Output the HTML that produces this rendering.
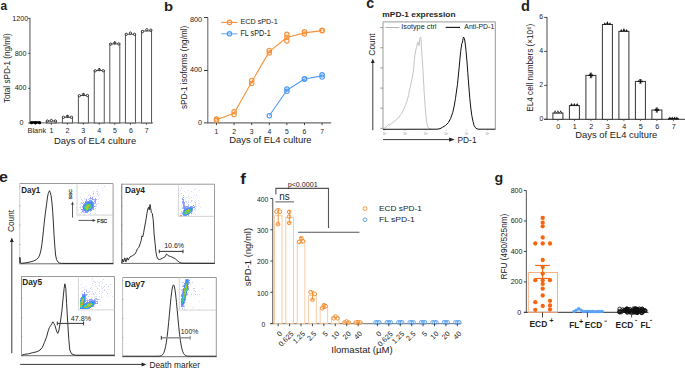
<!DOCTYPE html>
<html><head><meta charset="utf-8"><title>Figure</title>
<style>
html,body{margin:0;padding:0;background:#fff;}
body{width:685px;height:368px;overflow:hidden;}
svg{display:block;font-family:"Liberation Sans",sans-serif;}
</style></head>
<body>
<svg width="685" height="368" viewBox="0 0 685 368">

<text x="0.44" y="10.2" font-size="13.52" font-weight="bold" fill="#231f20" textLength="6.65" lengthAdjust="spacingAndGlyphs">a</text>
<text x="164.13" y="10.8" font-size="13.52" font-weight="bold" fill="#231f20" textLength="9.07" lengthAdjust="spacingAndGlyphs">b</text>
<text x="366.13" y="7.9" font-size="14.26" font-weight="bold" fill="#231f20" textLength="7.91" lengthAdjust="spacingAndGlyphs">c</text>
<text x="521.11" y="10.8" font-size="14.48" font-weight="bold" fill="#231f20" textLength="8.95" lengthAdjust="spacingAndGlyphs">d</text>
<text x="-1.04" y="182.1" font-size="14.81" font-weight="bold" fill="#231f20" textLength="8.92" lengthAdjust="spacingAndGlyphs">e</text>
<text x="240.15" y="183.7" font-size="14.21" font-weight="bold" fill="#231f20" textLength="5.62" lengthAdjust="spacingAndGlyphs">f</text>
<text x="494.43" y="181.9" font-size="13.7" font-weight="bold" fill="#231f20" textLength="8.71" lengthAdjust="spacingAndGlyphs">g</text>
<line x1="29.95" y1="17.9" x2="29.95" y2="123.55" stroke="#7d7d7d" stroke-width="1.35" />
<line x1="29.35" y1="122.95" x2="153" y2="122.95" stroke="#7d7d7d" stroke-width="1.2" />
<line x1="28.15" y1="18.35" x2="29.95" y2="18.35" stroke="#333" stroke-width="0.9" />
<line x1="28.15" y1="53.3" x2="29.95" y2="53.3" stroke="#333" stroke-width="0.9" />
<line x1="28.15" y1="88.3" x2="29.95" y2="88.3" stroke="#333" stroke-width="0.9" />
<line x1="28.15" y1="122.95" x2="29.95" y2="122.95" stroke="#333" stroke-width="0.9" />
<text x="12.34" y="20.8" font-size="8" fill="#222" textLength="15.84" lengthAdjust="spacingAndGlyphs">1200</text>
<text x="14.63" y="55.8" font-size="8" fill="#222" textLength="11.88" lengthAdjust="spacingAndGlyphs">800</text>
<text x="14.63" y="90" font-size="8" fill="#222" textLength="11.88" lengthAdjust="spacingAndGlyphs">400</text>
<text x="19.53" y="124.8" font-size="8" fill="#222" textLength="3.96" lengthAdjust="spacingAndGlyphs">0</text>
<rect x="30.45" y="121.8" width="10" height="1.15" stroke="#555" stroke-width="1.0" fill="#fff" />
<line x1="35.45" y1="122.95" x2="35.45" y2="124.75" stroke="#444" stroke-width="0.9" />
<rect x="46.35" y="121" width="10" height="1.95" stroke="#555" stroke-width="1.0" fill="#fff" />
<line x1="51.35" y1="122.95" x2="51.35" y2="124.75" stroke="#444" stroke-width="0.9" />
<rect x="62.45" y="117.3" width="10" height="5.65" stroke="#555" stroke-width="1.0" fill="#fff" />
<line x1="67.45" y1="122.95" x2="67.45" y2="124.75" stroke="#444" stroke-width="0.9" />
<rect x="78.4" y="95.5" width="10" height="27.45" stroke="#555" stroke-width="1.0" fill="#fff" />
<line x1="83.4" y1="122.95" x2="83.4" y2="124.75" stroke="#444" stroke-width="0.9" />
<rect x="94.25" y="70.5" width="10" height="52.45" stroke="#555" stroke-width="1.0" fill="#fff" />
<line x1="99.25" y1="122.95" x2="99.25" y2="124.75" stroke="#444" stroke-width="0.9" />
<rect x="109.8" y="43.9" width="10" height="79.05" stroke="#555" stroke-width="1.0" fill="#fff" />
<line x1="114.8" y1="122.95" x2="114.8" y2="124.75" stroke="#444" stroke-width="0.9" />
<rect x="125.45" y="34.3" width="10" height="88.65" stroke="#555" stroke-width="1.0" fill="#fff" />
<line x1="130.45" y1="122.95" x2="130.45" y2="124.75" stroke="#444" stroke-width="0.9" />
<rect x="141.55" y="31" width="10" height="91.95" stroke="#555" stroke-width="1.0" fill="#fff" />
<line x1="146.55" y1="122.95" x2="146.55" y2="124.75" stroke="#444" stroke-width="0.9" />
<rect x="31.5" y="121.4" width="8.1" height="2" stroke="none" stroke-width="0" fill="#000" />
<circle cx="31.5" cy="122.8" r="1.55" stroke="none" stroke-width="0" fill="#000" />
<circle cx="35.5" cy="122.8" r="1.55" stroke="none" stroke-width="0" fill="#000" />
<circle cx="39.6" cy="122.8" r="1.55" stroke="none" stroke-width="0" fill="#000" />
<circle cx="47.35" cy="121" r="1.15" stroke="#111" stroke-width="0.8" fill="#fff" />
<circle cx="51.35" cy="120.5" r="1.15" stroke="#111" stroke-width="0.8" fill="#fff" />
<circle cx="55.35" cy="121" r="1.15" stroke="#111" stroke-width="0.8" fill="#fff" />
<circle cx="63.45" cy="117.3" r="1.15" stroke="#111" stroke-width="0.8" fill="#fff" />
<circle cx="67.45" cy="116.3" r="1.15" stroke="#111" stroke-width="0.8" fill="#fff" />
<circle cx="71.45" cy="117.3" r="1.15" stroke="#111" stroke-width="0.8" fill="#fff" />
<line x1="67.45" y1="115.1" x2="67.45" y2="117.3" stroke="#111" stroke-width="0.8" />
<circle cx="79.4" cy="95.7" r="1.15" stroke="#111" stroke-width="0.8" fill="#fff" />
<circle cx="83.4" cy="94.5" r="1.15" stroke="#111" stroke-width="0.8" fill="#fff" />
<circle cx="87.4" cy="95.5" r="1.15" stroke="#111" stroke-width="0.8" fill="#fff" />
<line x1="83.4" y1="93.3" x2="83.4" y2="95.5" stroke="#111" stroke-width="0.8" />
<circle cx="95.25" cy="70.8" r="1.15" stroke="#111" stroke-width="0.8" fill="#fff" />
<circle cx="99.25" cy="69.7" r="1.15" stroke="#111" stroke-width="0.8" fill="#fff" />
<circle cx="103.25" cy="70.7" r="1.15" stroke="#111" stroke-width="0.8" fill="#fff" />
<line x1="99.25" y1="68.3" x2="99.25" y2="70.5" stroke="#111" stroke-width="0.8" />
<circle cx="110.8" cy="44.1" r="1.15" stroke="#111" stroke-width="0.8" fill="#fff" />
<circle cx="114.8" cy="42.9" r="1.15" stroke="#111" stroke-width="0.8" fill="#fff" />
<circle cx="118.8" cy="43.9" r="1.15" stroke="#111" stroke-width="0.8" fill="#fff" />
<line x1="114.8" y1="41.7" x2="114.8" y2="43.9" stroke="#111" stroke-width="0.8" />
<circle cx="126.25" cy="34.3" r="1.15" stroke="#111" stroke-width="0.8" fill="#fff" />
<circle cx="130.45" cy="33.1" r="1.15" stroke="#111" stroke-width="0.8" fill="#fff" />
<circle cx="134.55" cy="34.3" r="1.15" stroke="#111" stroke-width="0.8" fill="#fff" />
<circle cx="142.55" cy="31.6" r="1.15" stroke="#111" stroke-width="0.8" fill="#fff" />
<circle cx="146.85" cy="29.7" r="1.15" stroke="#111" stroke-width="0.8" fill="#fff" />
<circle cx="150.85" cy="30.1" r="1.15" stroke="#111" stroke-width="0.8" fill="#fff" />
<text x="27.5" y="133" font-size="7.45" fill="#222" textLength="18.61" lengthAdjust="spacingAndGlyphs">Blank</text>
<text x="49.48" y="133" font-size="7.8" fill="#222" textLength="3.9" lengthAdjust="spacingAndGlyphs">1</text>
<text x="65.44" y="133" font-size="7.8" fill="#222" textLength="3.9" lengthAdjust="spacingAndGlyphs">2</text>
<text x="81.33" y="133" font-size="7.8" fill="#222" textLength="3.9" lengthAdjust="spacingAndGlyphs">3</text>
<text x="97.2" y="133" font-size="7.8" fill="#222" textLength="3.9" lengthAdjust="spacingAndGlyphs">4</text>
<text x="113.05" y="133" font-size="7.8" fill="#222" textLength="3.9" lengthAdjust="spacingAndGlyphs">5</text>
<text x="128.9" y="133" font-size="7.8" fill="#222" textLength="3.9" lengthAdjust="spacingAndGlyphs">6</text>
<text x="144.79" y="133" font-size="7.8" fill="#222" textLength="3.9" lengthAdjust="spacingAndGlyphs">7</text>
<text x="54.05" y="144.3" font-size="9.66" fill="#222" textLength="82.19" lengthAdjust="spacingAndGlyphs">Days of EL4 culture</text>
<text x="10.3" y="103.06" font-size="8.28" fill="#222" textLength="69.67" lengthAdjust="spacingAndGlyphs" transform="rotate(-90 10.3 103.06)">Total sPD-1 (ng/ml)</text>
<line x1="207.8" y1="17.5" x2="207.8" y2="123.4" stroke="#6a6a6a" stroke-width="1.1" />
<line x1="203.9" y1="122.9" x2="331.2" y2="122.9" stroke="#6a6a6a" stroke-width="1.1" />
<line x1="204.1" y1="17.5" x2="207.8" y2="17.5" stroke="#333" stroke-width="1.0" />
<line x1="204.1" y1="70.5" x2="207.8" y2="70.5" stroke="#333" stroke-width="1.0" />
<text x="189.95" y="21.8" font-size="8.1" fill="#222" textLength="12.16" lengthAdjust="spacingAndGlyphs">800</text>
<text x="189.95" y="72" font-size="8.1" fill="#222" textLength="12.16" lengthAdjust="spacingAndGlyphs">400</text>
<text x="198.05" y="125.1" font-size="8.1" fill="#222" textLength="4.05" lengthAdjust="spacingAndGlyphs">0</text>
<line x1="216.5" y1="122.9" x2="216.5" y2="125.1" stroke="#333" stroke-width="0.9" />
<text x="214.52" y="133.5" font-size="7.6" fill="#222" textLength="3.8" lengthAdjust="spacingAndGlyphs">1</text>
<line x1="234.1" y1="122.9" x2="234.1" y2="125.1" stroke="#333" stroke-width="0.9" />
<text x="232.2" y="133.5" font-size="7.6" fill="#222" textLength="3.8" lengthAdjust="spacingAndGlyphs">2</text>
<line x1="251.7" y1="122.9" x2="251.7" y2="125.1" stroke="#333" stroke-width="0.9" />
<text x="249.82" y="133.5" font-size="7.6" fill="#222" textLength="3.8" lengthAdjust="spacingAndGlyphs">3</text>
<line x1="269.3" y1="122.9" x2="269.3" y2="125.1" stroke="#333" stroke-width="0.9" />
<text x="267.42" y="133.5" font-size="7.6" fill="#222" textLength="3.8" lengthAdjust="spacingAndGlyphs">4</text>
<line x1="286.9" y1="122.9" x2="286.9" y2="125.1" stroke="#333" stroke-width="0.9" />
<text x="285" y="133.5" font-size="7.6" fill="#222" textLength="3.8" lengthAdjust="spacingAndGlyphs">5</text>
<line x1="304.5" y1="122.9" x2="304.5" y2="125.1" stroke="#333" stroke-width="0.9" />
<text x="302.58" y="133.5" font-size="7.6" fill="#222" textLength="3.8" lengthAdjust="spacingAndGlyphs">6</text>
<line x1="322.1" y1="122.9" x2="322.1" y2="125.1" stroke="#333" stroke-width="0.9" />
<text x="320.2" y="133.5" font-size="7.6" fill="#222" textLength="3.8" lengthAdjust="spacingAndGlyphs">7</text>
<text x="229.25" y="142.9" font-size="8.28" fill="#222" textLength="82.29" lengthAdjust="spacingAndGlyphs">Days of EL4 culture</text>
<text x="187.4" y="109.04" font-size="8.97" fill="#222" textLength="83.27" lengthAdjust="spacingAndGlyphs" transform="rotate(-90 187.4 109.04)">sPD-1 isoforms (ng/ml)</text>
<polyline points="216.5,119.65 234.1,113.15 251.7,81.9 269.3,51.65 286.9,37.53 304.5,32.85 322.1,30.6" stroke="#f7923a" stroke-width="1.1" fill="none" stroke-linejoin="round" />
<circle cx="216.5" cy="119" r="2.2" stroke="#f7923a" stroke-width="1.15" fill="none" />
<circle cx="216.5" cy="120.3" r="2.2" stroke="#f7923a" stroke-width="1.15" fill="none" />
<circle cx="234.1" cy="111.8" r="2.2" stroke="#f7923a" stroke-width="1.15" fill="none" />
<circle cx="234.1" cy="114.5" r="2.2" stroke="#f7923a" stroke-width="1.15" fill="none" />
<circle cx="251.7" cy="80.4" r="2.2" stroke="#f7923a" stroke-width="1.15" fill="none" />
<circle cx="251.7" cy="83.4" r="2.2" stroke="#f7923a" stroke-width="1.15" fill="none" />
<circle cx="269.3" cy="50.4" r="2.2" stroke="#f7923a" stroke-width="1.15" fill="none" />
<circle cx="269.3" cy="52.9" r="2.2" stroke="#f7923a" stroke-width="1.15" fill="none" />
<circle cx="286.9" cy="34.3" r="2.2" stroke="#f7923a" stroke-width="1.15" fill="none" />
<circle cx="286.9" cy="37.2" r="2.2" stroke="#f7923a" stroke-width="1.15" fill="none" />
<circle cx="286.9" cy="41.1" r="2.2" stroke="#f7923a" stroke-width="1.15" fill="none" />
<circle cx="304.5" cy="31.8" r="2.2" stroke="#f7923a" stroke-width="1.15" fill="none" />
<circle cx="304.5" cy="33.9" r="2.2" stroke="#f7923a" stroke-width="1.15" fill="none" />
<circle cx="322.1" cy="30.4" r="2.2" stroke="#f7923a" stroke-width="1.15" fill="none" />
<circle cx="322.1" cy="30.8" r="2.2" stroke="#f7923a" stroke-width="1.15" fill="none" />
<polyline points="269.3,115.7 286.9,90.2 304.5,78.95 322.1,75.9" stroke="#4f9bf5" stroke-width="1.1" fill="none" stroke-linejoin="round" />
<circle cx="269.3" cy="115.7" r="2.2" stroke="#4f9bf5" stroke-width="1.15" fill="none" />
<circle cx="286.9" cy="89.1" r="2.2" stroke="#4f9bf5" stroke-width="1.15" fill="none" />
<circle cx="286.9" cy="91.3" r="2.2" stroke="#4f9bf5" stroke-width="1.15" fill="none" />
<circle cx="304.5" cy="78.7" r="2.2" stroke="#4f9bf5" stroke-width="1.15" fill="none" />
<circle cx="304.5" cy="79.2" r="2.2" stroke="#4f9bf5" stroke-width="1.15" fill="none" />
<circle cx="322.1" cy="74.8" r="2.2" stroke="#4f9bf5" stroke-width="1.15" fill="none" />
<circle cx="322.1" cy="77" r="2.2" stroke="#4f9bf5" stroke-width="1.15" fill="none" />
<line x1="221.3" y1="22.4" x2="237.6" y2="22.4" stroke="#f7923a" stroke-width="1.1" />
<circle cx="229.5" cy="22.4" r="2.2" stroke="#f7923a" stroke-width="1.15" fill="none" />
<line x1="221.3" y1="33.8" x2="237.6" y2="33.8" stroke="#7fb3f5" stroke-width="1.2" />
<circle cx="229.5" cy="33.8" r="2.2" stroke="#4f9bf5" stroke-width="1.2" fill="none" />
<circle cx="229.5" cy="33.8" r="0.7" stroke="#9cc6f7" stroke-width="0.6" fill="none" />
<text x="240.42" y="24.1" font-size="7.71" fill="#222" textLength="37.26" lengthAdjust="spacingAndGlyphs">ECD sPD-1</text>
<text x="240.42" y="35.7" font-size="8.26" fill="#222" textLength="30.25" lengthAdjust="spacingAndGlyphs">FL sPD-1</text>
<text x="382.36" y="17.4" font-size="7.03" font-weight="bold" fill="#231f20" textLength="73.15" lengthAdjust="spacingAndGlyphs">mPD-1 expression</text>
<path d="M383.0,129.4 L383.0,21.9 L495.3,21.9 L495.3,129.4" stroke="#999" stroke-width="1" fill="none"/>
<line x1="380.2" y1="27.6" x2="383" y2="27.6" stroke="#777" stroke-width="0.7" />
<line x1="380.2" y1="47.75" x2="383" y2="47.75" stroke="#777" stroke-width="0.7" />
<line x1="380.2" y1="67.9" x2="383" y2="67.9" stroke="#777" stroke-width="0.7" />
<line x1="380.2" y1="88.05" x2="383" y2="88.05" stroke="#777" stroke-width="0.7" />
<line x1="380.2" y1="108.2" x2="383" y2="108.2" stroke="#777" stroke-width="0.7" />
<line x1="380.2" y1="128.35" x2="383" y2="128.35" stroke="#777" stroke-width="0.7" />
<line x1="384.6" y1="129.4" x2="384.6" y2="130.6" stroke="#999" stroke-width="0.5" />
<text x="384.6" y="134.6" font-size="2.6" text-anchor="middle" fill="#888">10<tspan font-size="1.8" dy="-1">0</tspan></text>
<line x1="405.15" y1="129.4" x2="405.15" y2="130.6" stroke="#999" stroke-width="0.5" />
<text x="405.15" y="134.6" font-size="2.6" text-anchor="middle" fill="#888">10<tspan font-size="1.8" dy="-1">1</tspan></text>
<line x1="425.7" y1="129.4" x2="425.7" y2="130.6" stroke="#999" stroke-width="0.5" />
<text x="425.7" y="134.6" font-size="2.6" text-anchor="middle" fill="#888">10<tspan font-size="1.8" dy="-1">2</tspan></text>
<line x1="446.25" y1="129.4" x2="446.25" y2="130.6" stroke="#999" stroke-width="0.5" />
<text x="446.25" y="134.6" font-size="2.6" text-anchor="middle" fill="#888">10<tspan font-size="1.8" dy="-1">3</tspan></text>
<line x1="466.8" y1="129.4" x2="466.8" y2="130.6" stroke="#999" stroke-width="0.5" />
<text x="466.8" y="134.6" font-size="2.6" text-anchor="middle" fill="#888">10<tspan font-size="1.8" dy="-1">4</tspan></text>
<line x1="487.35" y1="129.4" x2="487.35" y2="130.6" stroke="#999" stroke-width="0.5" />
<text x="487.35" y="134.6" font-size="2.6" text-anchor="middle" fill="#888">10<tspan font-size="1.8" dy="-1">5</tspan></text>
<line x1="385.4" y1="27.5" x2="399.3" y2="27.5" stroke="#aaa" stroke-width="0.9" />
<text x="401.24" y="29.2" font-size="6.62" fill="#222" textLength="35.23" lengthAdjust="spacingAndGlyphs">Isotype ctrl</text>
<line x1="445.7" y1="27.4" x2="460" y2="27.4" stroke="#111" stroke-width="1.1" />
<text x="464.27" y="29.2" font-size="6.9" fill="#222" textLength="29.98" lengthAdjust="spacingAndGlyphs">Anti-PD-1</text>
<polyline points="383.2,129 384.5,128 386,127.6 387.2,125.6 388.6,124.6 390,125 391.5,123.2 393,122.8 394.3,121.4 396,120.4 397.5,118.2 399,117.6 400,115.5 401.5,113.6 403,110.5 404.2,108.4 405.5,104.8 406.8,101.5 408.5,95.6 409.5,90 410.5,86 411.4,81.3 412.5,76 413.6,69.9 414.2,62 414.8,55.7 415.6,51 416.5,47.1 417.2,44 417.9,42 418.5,44 419.1,45.7 419.5,41 419.9,38 420.4,37.2 420.8,37.1 421.2,42 421.6,50 422.2,58 422.8,67.1 423.5,80 424.2,92.7 424.9,103 425.6,112.7 426.3,119 427,124.1 428,127 429,128.6 431,129" stroke="#bdbdbd" stroke-width="0.9" fill="none" stroke-linejoin="round" />
<polyline points="383,129.3 437,129.2 440,128.7 442.7,127.2 445.5,125.5 448.4,122.6 450.6,118.5 452.7,112.7 454.2,106 455.5,98.4 456.5,91 457.5,84.2 458.4,75 459.2,67.1 460,58 460.7,51.4 461.3,47 461.8,43.7 462.2,43 462.7,40.8 463.1,38.5 463.5,37.1 464.1,38 464.7,40 465.4,45 466.1,51.4 467,62 467.8,72.8 468.8,86 469.8,98.4 470.8,108 471.8,115.5 473,121.5 474.1,125.5 475.5,127.8 476.9,128.8 479,129.2 495.3,129.2" stroke="#111" stroke-width="1.0" fill="none" stroke-linejoin="round" />
<line x1="372.8" y1="130.2" x2="372.8" y2="62.5" stroke="#222" stroke-width="0.9" />
<path d="M370.9,63 L372.8,58.8 L374.7,63 Z" fill="#222"/>
<text x="374.9" y="55.62" font-size="9.43" fill="#222" textLength="22.29" lengthAdjust="spacingAndGlyphs" transform="rotate(-90 374.9 55.62)">Count</text>
<line x1="383" y1="139.6" x2="449.6" y2="139.6" stroke="#222" stroke-width="0.9" />
<path d="M449.1,137.4 L454.6,139.6 L449.1,141.8 Z" fill="#222"/>
<text x="457.53" y="142.8" font-size="8.41" fill="#222" textLength="19.01" lengthAdjust="spacingAndGlyphs">PD-1</text>
<line x1="547" y1="17" x2="547" y2="119.8" stroke="#5a5a5a" stroke-width="1.1" />
<line x1="544.2" y1="119.3" x2="685" y2="119.3" stroke="#333" stroke-width="1.0" />
<line x1="544.2" y1="17.4" x2="547" y2="17.4" stroke="#333" stroke-width="0.9" />
<line x1="544.2" y1="51.4" x2="547" y2="51.4" stroke="#333" stroke-width="0.9" />
<line x1="544.2" y1="85.4" x2="547" y2="85.4" stroke="#333" stroke-width="0.9" />
<line x1="544.2" y1="119.3" x2="547" y2="119.3" stroke="#333" stroke-width="0.9" />
<text x="539.26" y="19.4" font-size="7.3" fill="#222" textLength="3.86" lengthAdjust="spacingAndGlyphs">6</text>
<text x="539.16" y="53.4" font-size="7.3" fill="#222" textLength="3.86" lengthAdjust="spacingAndGlyphs">4</text>
<text x="539.3" y="87.4" font-size="7.3" fill="#222" textLength="3.86" lengthAdjust="spacingAndGlyphs">2</text>
<text x="539.43" y="121.1" font-size="7.3" fill="#222" textLength="3.86" lengthAdjust="spacingAndGlyphs">0</text>
<rect x="552.9" y="113" width="10" height="6.3" stroke="#333" stroke-width="1.0" fill="#fff" />
<line x1="557.9" y1="119.3" x2="557.9" y2="121.1" stroke="#555" stroke-width="0.9" />
<text x="556.28" y="128.9" font-size="7.9" fill="#222" textLength="4.04" lengthAdjust="spacingAndGlyphs">0</text>
<rect x="569.4" y="105.6" width="10" height="13.7" stroke="#333" stroke-width="1.0" fill="#fff" />
<line x1="574.4" y1="119.3" x2="574.4" y2="121.1" stroke="#555" stroke-width="0.9" />
<text x="572.69" y="128.9" font-size="7.9" fill="#222" textLength="4.04" lengthAdjust="spacingAndGlyphs">1</text>
<rect x="585.9" y="75.4" width="10" height="43.9" stroke="#333" stroke-width="1.0" fill="#fff" />
<line x1="590.9" y1="119.3" x2="590.9" y2="121.1" stroke="#555" stroke-width="0.9" />
<text x="589.28" y="128.9" font-size="7.9" fill="#222" textLength="4.04" lengthAdjust="spacingAndGlyphs">2</text>
<rect x="602.4" y="24.5" width="10" height="94.8" stroke="#333" stroke-width="1.0" fill="#fff" />
<line x1="607.4" y1="119.3" x2="607.4" y2="121.1" stroke="#555" stroke-width="0.9" />
<text x="605.8" y="128.9" font-size="7.9" fill="#222" textLength="4.04" lengthAdjust="spacingAndGlyphs">3</text>
<rect x="618.9" y="31.4" width="10" height="87.9" stroke="#333" stroke-width="1.0" fill="#fff" />
<line x1="623.9" y1="119.3" x2="623.9" y2="121.1" stroke="#555" stroke-width="0.9" />
<text x="622.3" y="128.9" font-size="7.9" fill="#222" textLength="4.04" lengthAdjust="spacingAndGlyphs">4</text>
<rect x="635.4" y="81.4" width="10" height="37.9" stroke="#333" stroke-width="1.0" fill="#fff" />
<line x1="640.4" y1="119.3" x2="640.4" y2="121.1" stroke="#555" stroke-width="0.9" />
<text x="638.78" y="128.9" font-size="7.9" fill="#222" textLength="4.04" lengthAdjust="spacingAndGlyphs">5</text>
<rect x="651.9" y="110" width="10" height="9.3" stroke="#333" stroke-width="1.0" fill="#fff" />
<line x1="656.9" y1="119.3" x2="656.9" y2="121.1" stroke="#555" stroke-width="0.9" />
<text x="655.26" y="128.9" font-size="7.9" fill="#222" textLength="4.04" lengthAdjust="spacingAndGlyphs">6</text>
<rect x="668.4" y="118.6" width="10" height="0.7" stroke="#333" stroke-width="1.0" fill="#fff" />
<line x1="673.4" y1="119.3" x2="673.4" y2="121.1" stroke="#555" stroke-width="0.9" />
<text x="671.78" y="128.9" font-size="7.9" fill="#222" textLength="4.04" lengthAdjust="spacingAndGlyphs">7</text>
<path d="M553.55,113.14 L555.1,110.35 L556.65,113.14 Z" fill="#111"/>
<circle cx="555.1" cy="112.3" r="0.5" stroke="none" stroke-width="0" fill="#fff" />
<path d="M556.35,113.14 L557.9,110.35 L559.45,113.14 Z" fill="#111"/>
<circle cx="557.9" cy="112.3" r="0.5" stroke="none" stroke-width="0" fill="#fff" />
<path d="M559.15,113.14 L560.7,110.35 L562.25,113.14 Z" fill="#111"/>
<circle cx="560.7" cy="112.3" r="0.5" stroke="none" stroke-width="0" fill="#fff" />
<path d="M570.05,105.74 L571.6,102.95 L573.15,105.74 Z" fill="#111"/>
<path d="M572.85,105.74 L574.4,102.95 L575.95,105.74 Z" fill="#111"/>
<path d="M575.65,105.74 L577.2,102.95 L578.75,105.74 Z" fill="#111"/>
<line x1="590.9" y1="73.1" x2="590.9" y2="77.7" stroke="#111" stroke-width="0.8" />
<line x1="589.7" y1="73.1" x2="592.1" y2="73.1" stroke="#111" stroke-width="0.7" />
<line x1="589.7" y1="77.7" x2="592.1" y2="77.7" stroke="#111" stroke-width="0.7" />
<path d="M588.1,76.04 L589.4,73.7 L590.7,76.04 Z" fill="#111"/>
<path d="M591.1,76.24 L592.4,73.9 L593.7,76.24 Z" fill="#111"/>
<path d="M589.6,75.44 L590.9,73.1 L592.2,75.44 Z" fill="#111"/>
<path d="M589.6,75.36 L590.9,77.7 L592.2,75.36 Z" fill="#111"/>
<path d="M603.4,24.72 L604.8,22.2 L606.2,24.72 Z" fill="#111"/>
<path d="M606,24.12 L607.4,21.6 L608.8,24.12 Z" fill="#111"/>
<path d="M608.6,24.72 L610,22.2 L611.4,24.72 Z" fill="#111"/>
<line x1="607.4" y1="21.7" x2="607.4" y2="24.5" stroke="#111" stroke-width="0.8" />
<path d="M619.9,31.62 L621.3,29.1 L622.7,31.62 Z" fill="#111"/>
<path d="M622.5,31.02 L623.9,28.5 L625.3,31.02 Z" fill="#111"/>
<path d="M625.1,31.62 L626.5,29.1 L627.9,31.62 Z" fill="#111"/>
<line x1="623.9" y1="28.6" x2="623.9" y2="31.4" stroke="#111" stroke-width="0.8" />
<line x1="640.4" y1="79.5" x2="640.4" y2="83.3" stroke="#111" stroke-width="0.8" />
<line x1="639.2" y1="79.5" x2="641.6" y2="79.5" stroke="#111" stroke-width="0.7" />
<line x1="639.2" y1="83.3" x2="641.6" y2="83.3" stroke="#111" stroke-width="0.7" />
<path d="M637.6,82.04 L638.9,79.7 L640.2,82.04 Z" fill="#111"/>
<path d="M640.6,82.24 L641.9,79.9 L643.2,82.24 Z" fill="#111"/>
<path d="M639.1,81.84 L640.4,79.5 L641.7,81.84 Z" fill="#111"/>
<path d="M639.1,80.96 L640.4,83.3 L641.7,80.96 Z" fill="#111"/>
<line x1="656.9" y1="107.9" x2="656.9" y2="112.1" stroke="#111" stroke-width="0.8" />
<line x1="655.7" y1="107.9" x2="658.1" y2="107.9" stroke="#111" stroke-width="0.7" />
<line x1="655.7" y1="112.1" x2="658.1" y2="112.1" stroke="#111" stroke-width="0.7" />
<path d="M654.1,110.64 L655.4,108.3 L656.7,110.64 Z" fill="#111"/>
<path d="M657.1,110.84 L658.4,108.5 L659.7,110.84 Z" fill="#111"/>
<path d="M655.6,110.24 L656.9,107.9 L658.2,110.24 Z" fill="#111"/>
<path d="M655.6,109.76 L656.9,112.1 L658.2,109.76 Z" fill="#111"/>
<path d="M668.4,119.2 L669.9,116.5 L671.4,119.2 Z" fill="#111"/>
<path d="M670.7,119.2 L672.2,116.5 L673.7,119.2 Z" fill="#111"/>
<path d="M673.1,119.2 L674.6,116.5 L676.1,119.2 Z" fill="#111"/>
<path d="M675.4,119.2 L676.9,116.5 L678.4,119.2 Z" fill="#111"/>
<text x="575.25" y="137.6" font-size="8.55" fill="#222" textLength="82.09" lengthAdjust="spacingAndGlyphs">Days of EL4 culture</text>
<text x="532.7" y="111.65" font-size="8.83" fill="#222" textLength="87.87" lengthAdjust="spacingAndGlyphs" transform="rotate(-90 532.7 111.65)">EL4 cell numbers (×10⁶)</text>
<path d="M19.75,183.5 L113.1,183.5 L113.1,263.8" stroke="#9a9a9a" stroke-width="1" fill="none"/>
<line x1="19.25" y1="263.8" x2="113.6" y2="263.8" stroke="#6a6a6a" stroke-width="1.0" />
<line x1="19.75" y1="183" x2="19.75" y2="263.8" stroke="#cdcdcd" stroke-width="1.0" />
<line x1="19.15" y1="244.45" x2="20.55" y2="244.45" stroke="#888" stroke-width="0.6" />
<line x1="19.15" y1="225.1" x2="20.55" y2="225.1" stroke="#888" stroke-width="0.6" />
<line x1="19.15" y1="205.75" x2="20.55" y2="205.75" stroke="#888" stroke-width="0.6" />
<line x1="19.15" y1="186.4" x2="20.55" y2="186.4" stroke="#888" stroke-width="0.6" />
<line x1="30.6" y1="263.8" x2="30.6" y2="262.8" stroke="#aaa" stroke-width="0.5" />
<line x1="41.46" y1="263.8" x2="41.46" y2="262.8" stroke="#aaa" stroke-width="0.5" />
<line x1="52.31" y1="263.8" x2="52.31" y2="262.8" stroke="#aaa" stroke-width="0.5" />
<line x1="63.17" y1="263.8" x2="63.17" y2="262.8" stroke="#aaa" stroke-width="0.5" />
<line x1="74.02" y1="263.8" x2="74.02" y2="262.8" stroke="#aaa" stroke-width="0.5" />
<line x1="84.88" y1="263.8" x2="84.88" y2="262.8" stroke="#aaa" stroke-width="0.5" />
<line x1="95.73" y1="263.8" x2="95.73" y2="262.8" stroke="#aaa" stroke-width="0.5" />
<line x1="106.59" y1="263.8" x2="106.59" y2="262.8" stroke="#aaa" stroke-width="0.5" />
<text x="21.18" y="192.6" font-size="8.84" font-weight="bold" fill="#231f20" textLength="19.13" lengthAdjust="spacingAndGlyphs">Day1</text>
<polyline points="19.9,263.4 19.9,257.3 20.4,262.8 21.5,263.3 26,262.8 30.5,261.9 33.5,261 36.3,259.6 38.3,257.8 39.7,255 41,250 42,243.6 43.2,233 44.2,223 45.4,213 46.5,204.8 47.5,197 48.3,193.4 49.5,190.7 50.3,192.5 51.1,195.7 52,203 52.7,211.7 53.4,223 54,234.5 54.8,246 55.6,255 56.5,259.5 57.9,261.9 59.5,263 61.3,263.4 113,263.4" stroke="#1a1a1a" stroke-width="0.9" fill="none" stroke-linejoin="round" />
<path d="M77,183.5 L77,215.1 L113.1,215.1" stroke="#c4c4c4" stroke-width="0.7" fill="none"/>
<line x1="77" y1="208.23" x2="77.9" y2="208.23" stroke="#ccc" stroke-width="0.5" />
<line x1="77" y1="201.36" x2="77.9" y2="201.36" stroke="#ccc" stroke-width="0.5" />
<line x1="77" y1="194.49" x2="77.9" y2="194.49" stroke="#ccc" stroke-width="0.5" />
<line x1="77" y1="187.62" x2="77.9" y2="187.62" stroke="#ccc" stroke-width="0.5" />
<line x1="83.45" y1="215.1" x2="83.45" y2="214.2" stroke="#ccc" stroke-width="0.5" />
<line x1="89.89" y1="215.1" x2="89.89" y2="214.2" stroke="#ccc" stroke-width="0.5" />
<line x1="96.34" y1="215.1" x2="96.34" y2="214.2" stroke="#ccc" stroke-width="0.5" />
<line x1="102.79" y1="215.1" x2="102.79" y2="214.2" stroke="#ccc" stroke-width="0.5" />
<line x1="109.23" y1="215.1" x2="109.23" y2="214.2" stroke="#ccc" stroke-width="0.5" />
<g shape-rendering="crispEdges"><rect x="84" y="185" width="1" height="1" fill="rgb(120,130,255)" fill-opacity="0.30"/><rect x="98" y="186" width="1" height="1" fill="rgb(120,130,255)" fill-opacity="0.24"/><rect x="104" y="186" width="1" height="1" fill="rgb(120,130,255)" fill-opacity="0.38"/><rect x="102" y="188" width="1" height="1" fill="rgb(120,130,255)" fill-opacity="0.24"/><rect x="96" y="189" width="1" height="1" fill="rgb(120,130,255)" fill-opacity="0.25"/><rect x="102" y="190" width="1" height="1" fill="rgb(120,130,255)" fill-opacity="0.20"/><rect x="93" y="191" width="1" height="1" fill="rgb(120,130,255)" fill-opacity="0.34"/><rect x="96" y="191" width="1" height="1" fill="rgb(120,130,255)" fill-opacity="0.23"/><rect x="97" y="191" width="1" height="1" fill="rgb(120,130,255)" fill-opacity="0.35"/><rect x="85" y="192" width="1" height="1" fill="rgb(120,130,255)" fill-opacity="0.25"/><rect x="93" y="192" width="1" height="1" fill="rgb(120,130,255)" fill-opacity="0.29"/><rect x="93" y="193" width="1" height="1" fill="rgb(120,130,255)" fill-opacity="0.42"/><rect x="97" y="193" width="1" height="1" fill="rgb(120,130,255)" fill-opacity="0.44"/><rect x="93" y="194" width="1" height="1" fill="rgb(120,130,255)" fill-opacity="0.36"/><rect x="97" y="194" width="1" height="1" fill="rgb(120,130,255)" fill-opacity="0.41"/><rect x="99" y="194" width="1" height="1" fill="rgb(120,130,255)" fill-opacity="0.19"/><rect x="88" y="195" width="1" height="1" fill="rgb(120,130,255)" fill-opacity="0.32"/><rect x="90" y="195" width="1" height="1" fill="rgb(120,130,255)" fill-opacity="0.28"/><rect x="98" y="195" width="1" height="1" fill="rgb(120,130,255)" fill-opacity="0.36"/><rect x="90" y="196" width="1" height="1" fill="rgb(120,130,255)" fill-opacity="0.22"/><rect x="92" y="196" width="1" height="1" fill="rgb(120,130,255)" fill-opacity="0.29"/><rect x="93" y="196" width="1" height="1" fill="rgb(120,130,255)" fill-opacity="0.21"/><rect x="94" y="196" width="1" height="1" fill="rgb(120,130,255)" fill-opacity="0.21"/><rect x="96" y="196" width="1" height="1" fill="rgb(120,130,255)" fill-opacity="0.20"/><rect x="80" y="197" width="1" height="1" fill="rgb(120,130,255)" fill-opacity="0.21"/><rect x="90" y="197" width="1" height="1" fill="rgb(80,100,255)" fill-opacity="0.57"/><rect x="92" y="197" width="1" height="1" fill="rgb(80,100,255)" fill-opacity="0.49"/><rect x="101" y="197" width="1" height="1" fill="rgb(120,130,255)" fill-opacity="0.23"/><rect x="84" y="198" width="1" height="1" fill="rgb(120,130,255)" fill-opacity="0.33"/><rect x="86" y="198" width="1" height="1" fill="rgb(120,130,255)" fill-opacity="0.26"/><rect x="89" y="198" width="1" height="1" fill="rgb(80,100,255)" fill-opacity="0.49"/><rect x="90" y="198" width="1" height="1" fill="rgb(80,100,255)" fill-opacity="0.53"/><rect x="91" y="198" width="1" height="1" fill="rgb(80,100,255)" fill-opacity="0.65"/><rect x="92" y="198" width="1" height="1" fill="rgb(80,100,255)" fill-opacity="0.67"/><rect x="95" y="198" width="1" height="1" fill="rgb(80,100,255)" fill-opacity="0.52"/><rect x="81" y="199" width="1" height="1" fill="rgb(120,130,255)" fill-opacity="0.27"/><rect x="85" y="199" width="1" height="1" fill="rgb(120,130,255)" fill-opacity="0.22"/><rect x="86" y="199" width="1" height="1" fill="rgb(80,100,255)" fill-opacity="0.54"/><rect x="88" y="199" width="1" height="1" fill="rgb(80,100,255)" fill-opacity="0.42"/><rect x="90" y="199" width="1" height="1" fill="rgb(80,100,255)" fill-opacity="0.36"/><rect x="92" y="199" width="1" height="1" fill="rgb(80,100,255)" fill-opacity="0.59"/><rect x="93" y="199" width="1" height="1" fill="rgb(80,100,255)" fill-opacity="0.56"/><rect x="94" y="199" width="1" height="1" fill="rgb(80,100,255)" fill-opacity="0.47"/><rect x="95" y="199" width="1" height="1" fill="rgb(80,100,255)" fill-opacity="0.62"/><rect x="96" y="199" width="1" height="1" fill="rgb(80,100,255)" fill-opacity="0.38"/><rect x="97" y="199" width="1" height="1" fill="rgb(120,130,255)" fill-opacity="0.27"/><rect x="98" y="199" width="1" height="1" fill="rgb(120,130,255)" fill-opacity="0.19"/><rect x="82" y="200" width="1" height="1" fill="rgb(120,130,255)" fill-opacity="0.28"/><rect x="86" y="200" width="1" height="1" fill="rgb(80,100,255)" fill-opacity="0.59"/><rect x="89" y="200" width="1" height="1" fill="rgb(75,106,254)" fill-opacity="0.60"/><rect x="90" y="200" width="1" height="1" fill="rgb(64,109,252)" fill-opacity="0.69"/><rect x="91" y="200" width="1" height="1" fill="rgb(66,108,253)" fill-opacity="0.68"/><rect x="94" y="200" width="1" height="1" fill="rgb(80,100,255)" fill-opacity="0.39"/><rect x="95" y="200" width="1" height="1" fill="rgb(80,100,255)" fill-opacity="0.58"/><rect x="85" y="201" width="1" height="1" fill="rgb(80,100,255)" fill-opacity="0.64"/><rect x="86" y="201" width="1" height="1" fill="rgb(75,106,254)" fill-opacity="0.60"/><rect x="87" y="201" width="1" height="1" fill="rgb(63,109,252)" fill-opacity="0.70"/><rect x="88" y="201" width="1" height="1" fill="rgb(58,111,251)" fill-opacity="0.75"/><rect x="89" y="201" width="1" height="1" fill="rgb(57,111,251)" fill-opacity="0.75"/><rect x="90" y="201" width="1" height="1" fill="rgb(66,108,253)" fill-opacity="0.68"/><rect x="91" y="201" width="1" height="1" fill="rgb(58,111,251)" fill-opacity="0.75"/><rect x="92" y="201" width="1" height="1" fill="rgb(60,110,252)" fill-opacity="0.73"/><rect x="94" y="201" width="1" height="1" fill="rgb(80,100,255)" fill-opacity="0.60"/><rect x="95" y="201" width="1" height="1" fill="rgb(80,100,255)" fill-opacity="0.66"/><rect x="81" y="202" width="1" height="1" fill="rgb(120,130,255)" fill-opacity="0.40"/><rect x="83" y="202" width="1" height="1" fill="rgb(80,100,255)" fill-opacity="0.43"/><rect x="85" y="202" width="1" height="1" fill="rgb(65,109,252)" fill-opacity="0.69"/><rect x="86" y="202" width="1" height="1" fill="rgb(66,108,253)" fill-opacity="0.68"/><rect x="87" y="202" width="1" height="1" fill="rgb(49,113,250)" fill-opacity="0.82"/><rect x="88" y="202" width="1" height="1" fill="rgb(44,116,249)" fill-opacity="0.86"/><rect x="89" y="202" width="1" height="1" fill="rgb(44,117,249)" fill-opacity="0.86"/><rect x="90" y="202" width="1" height="1" fill="rgb(40,130,245)" fill-opacity="0.92"/><rect x="91" y="202" width="1" height="1" fill="rgb(42,122,247)" fill-opacity="0.89"/><rect x="92" y="202" width="1" height="1" fill="rgb(55,112,251)" fill-opacity="0.77"/><rect x="93" y="202" width="1" height="1" fill="rgb(65,109,252)" fill-opacity="0.68"/><rect x="95" y="202" width="1" height="1" fill="rgb(80,100,255)" fill-opacity="0.62"/><rect x="80" y="203" width="1" height="1" fill="rgb(120,130,255)" fill-opacity="0.22"/><rect x="81" y="203" width="1" height="1" fill="rgb(120,130,255)" fill-opacity="0.40"/><rect x="82" y="203" width="1" height="1" fill="rgb(80,100,255)" fill-opacity="0.50"/><rect x="84" y="203" width="1" height="1" fill="rgb(71,107,253)" fill-opacity="0.63"/><rect x="85" y="203" width="1" height="1" fill="rgb(59,110,252)" fill-opacity="0.73"/><rect x="86" y="203" width="1" height="1" fill="rgb(49,113,250)" fill-opacity="0.82"/><rect x="87" y="203" width="1" height="1" fill="rgb(33,153,238)" fill-opacity="0.95"/><rect x="88" y="203" width="1" height="1" fill="rgb(39,134,244)" fill-opacity="0.93"/><rect x="89" y="203" width="1" height="1" fill="rgb(33,175,202)" fill-opacity="0.95"/><rect x="90" y="203" width="1" height="1" fill="rgb(43,121,248)" fill-opacity="0.88"/><rect x="91" y="203" width="1" height="1" fill="rgb(38,137,243)" fill-opacity="0.95"/><rect x="92" y="203" width="1" height="1" fill="rgb(55,112,251)" fill-opacity="0.77"/><rect x="93" y="203" width="1" height="1" fill="rgb(62,110,252)" fill-opacity="0.71"/><rect x="94" y="203" width="1" height="1" fill="rgb(80,100,255)" fill-opacity="0.54"/><rect x="95" y="203" width="1" height="1" fill="rgb(80,100,255)" fill-opacity="0.48"/><rect x="98" y="203" width="1" height="1" fill="rgb(120,130,255)" fill-opacity="0.37"/><rect x="80" y="204" width="1" height="1" fill="rgb(120,130,255)" fill-opacity="0.21"/><rect x="83" y="204" width="1" height="1" fill="rgb(75,106,254)" fill-opacity="0.60"/><rect x="84" y="204" width="1" height="1" fill="rgb(63,109,252)" fill-opacity="0.70"/><rect x="85" y="204" width="1" height="1" fill="rgb(38,137,243)" fill-opacity="0.95"/><rect x="86" y="204" width="1" height="1" fill="rgb(35,181,183)" fill-opacity="0.95"/><rect x="87" y="204" width="1" height="1" fill="rgb(147,192,52)" fill-opacity="0.95"/><rect x="88" y="204" width="1" height="1" fill="rgb(80,195,93)" fill-opacity="0.95"/><rect x="89" y="204" width="1" height="1" fill="rgb(134,192,57)" fill-opacity="0.95"/><rect x="90" y="204" width="1" height="1" fill="rgb(63,195,112)" fill-opacity="0.95"/><rect x="91" y="204" width="1" height="1" fill="rgb(31,160,236)" fill-opacity="0.95"/><rect x="92" y="204" width="1" height="1" fill="rgb(49,113,250)" fill-opacity="0.82"/><rect x="93" y="204" width="1" height="1" fill="rgb(67,108,253)" fill-opacity="0.67"/><rect x="96" y="204" width="1" height="1" fill="rgb(80,100,255)" fill-opacity="0.43"/><rect x="83" y="205" width="1" height="1" fill="rgb(66,108,253)" fill-opacity="0.67"/><rect x="84" y="205" width="1" height="1" fill="rgb(43,118,248)" fill-opacity="0.87"/><rect x="85" y="205" width="1" height="1" fill="rgb(36,185,169)" fill-opacity="0.95"/><rect x="86" y="205" width="1" height="1" fill="rgb(105,194,67)" fill-opacity="0.95"/><rect x="87" y="205" width="1" height="1" fill="rgb(69,195,105)" fill-opacity="0.95"/><rect x="88" y="205" width="1" height="1" fill="rgb(180,190,40)" fill-opacity="0.95"/><rect x="89" y="205" width="1" height="1" fill="rgb(180,190,40)" fill-opacity="0.95"/><rect x="90" y="205" width="1" height="1" fill="rgb(38,190,154)" fill-opacity="0.95"/><rect x="91" y="205" width="1" height="1" fill="rgb(34,178,191)" fill-opacity="0.95"/><rect x="92" y="205" width="1" height="1" fill="rgb(41,125,246)" fill-opacity="0.90"/><rect x="93" y="205" width="1" height="1" fill="rgb(60,110,252)" fill-opacity="0.73"/><rect x="103" y="205" width="1" height="1" fill="rgb(120,130,255)" fill-opacity="0.22"/><rect x="80" y="206" width="1" height="1" fill="rgb(120,130,255)" fill-opacity="0.20"/><rect x="82" y="206" width="1" height="1" fill="rgb(80,100,255)" fill-opacity="0.45"/><rect x="83" y="206" width="1" height="1" fill="rgb(56,111,251)" fill-opacity="0.76"/><rect x="84" y="206" width="1" height="1" fill="rgb(33,174,205)" fill-opacity="0.95"/><rect x="85" y="206" width="1" height="1" fill="rgb(95,195,74)" fill-opacity="0.95"/><rect x="86" y="206" width="1" height="1" fill="rgb(180,190,40)" fill-opacity="0.95"/><rect x="87" y="206" width="1" height="1" fill="rgb(180,190,40)" fill-opacity="0.95"/><rect x="88" y="206" width="1" height="1" fill="rgb(180,190,40)" fill-opacity="0.95"/><rect x="89" y="206" width="1" height="1" fill="rgb(55,195,122)" fill-opacity="0.95"/><rect x="90" y="206" width="1" height="1" fill="rgb(71,195,103)" fill-opacity="0.95"/><rect x="91" y="206" width="1" height="1" fill="rgb(36,183,176)" fill-opacity="0.95"/><rect x="92" y="206" width="1" height="1" fill="rgb(43,121,248)" fill-opacity="0.88"/><rect x="93" y="206" width="1" height="1" fill="rgb(75,106,254)" fill-opacity="0.60"/><rect x="94" y="206" width="1" height="1" fill="rgb(80,100,255)" fill-opacity="0.61"/><rect x="95" y="206" width="1" height="1" fill="rgb(120,130,255)" fill-opacity="0.38"/><rect x="96" y="206" width="1" height="1" fill="rgb(120,130,255)" fill-opacity="0.34"/><rect x="79" y="207" width="1" height="1" fill="rgb(120,130,255)" fill-opacity="0.23"/><rect x="80" y="207" width="1" height="1" fill="rgb(120,130,255)" fill-opacity="0.43"/><rect x="82" y="207" width="1" height="1" fill="rgb(80,100,255)" fill-opacity="0.39"/><rect x="83" y="207" width="1" height="1" fill="rgb(44,115,249)" fill-opacity="0.86"/><rect x="84" y="207" width="1" height="1" fill="rgb(39,194,142)" fill-opacity="0.95"/><rect x="85" y="207" width="1" height="1" fill="rgb(180,190,40)" fill-opacity="0.95"/><rect x="86" y="207" width="1" height="1" fill="rgb(152,191,50)" fill-opacity="0.95"/><rect x="87" y="207" width="1" height="1" fill="rgb(180,190,40)" fill-opacity="0.95"/><rect x="88" y="207" width="1" height="1" fill="rgb(117,193,63)" fill-opacity="0.95"/><rect x="89" y="207" width="1" height="1" fill="rgb(54,195,122)" fill-opacity="0.95"/><rect x="90" y="207" width="1" height="1" fill="rgb(65,195,110)" fill-opacity="0.95"/><rect x="91" y="207" width="1" height="1" fill="rgb(32,156,237)" fill-opacity="0.95"/><rect x="92" y="207" width="1" height="1" fill="rgb(51,113,250)" fill-opacity="0.80"/><rect x="93" y="207" width="1" height="1" fill="rgb(70,107,253)" fill-opacity="0.64"/><rect x="80" y="208" width="1" height="1" fill="rgb(120,130,255)" fill-opacity="0.21"/><rect x="83" y="208" width="1" height="1" fill="rgb(39,131,244)" fill-opacity="0.92"/><rect x="84" y="208" width="1" height="1" fill="rgb(38,190,154)" fill-opacity="0.95"/><rect x="85" y="208" width="1" height="1" fill="rgb(86,195,85)" fill-opacity="0.95"/><rect x="86" y="208" width="1" height="1" fill="rgb(180,190,40)" fill-opacity="0.95"/><rect x="87" y="208" width="1" height="1" fill="rgb(180,190,40)" fill-opacity="0.95"/><rect x="88" y="208" width="1" height="1" fill="rgb(76,195,97)" fill-opacity="0.95"/><rect x="89" y="208" width="1" height="1" fill="rgb(180,190,40)" fill-opacity="0.95"/><rect x="90" y="208" width="1" height="1" fill="rgb(33,175,201)" fill-opacity="0.95"/><rect x="91" y="208" width="1" height="1" fill="rgb(45,114,250)" fill-opacity="0.85"/><rect x="92" y="208" width="1" height="1" fill="rgb(71,107,253)" fill-opacity="0.63"/><rect x="93" y="208" width="1" height="1" fill="rgb(80,100,255)" fill-opacity="0.53"/><rect x="95" y="208" width="1" height="1" fill="rgb(120,130,255)" fill-opacity="0.43"/><rect x="81" y="209" width="1" height="1" fill="rgb(80,100,255)" fill-opacity="0.67"/><rect x="82" y="209" width="1" height="1" fill="rgb(73,106,254)" fill-opacity="0.62"/><rect x="83" y="209" width="1" height="1" fill="rgb(64,109,252)" fill-opacity="0.69"/><rect x="84" y="209" width="1" height="1" fill="rgb(41,125,246)" fill-opacity="0.90"/><rect x="85" y="209" width="1" height="1" fill="rgb(35,182,180)" fill-opacity="0.95"/><rect x="86" y="209" width="1" height="1" fill="rgb(180,190,40)" fill-opacity="0.95"/><rect x="87" y="209" width="1" height="1" fill="rgb(180,190,40)" fill-opacity="0.95"/><rect x="88" y="209" width="1" height="1" fill="rgb(39,193,144)" fill-opacity="0.95"/><rect x="89" y="209" width="1" height="1" fill="rgb(35,146,240)" fill-opacity="0.95"/><rect x="90" y="209" width="1" height="1" fill="rgb(43,121,248)" fill-opacity="0.88"/><rect x="91" y="209" width="1" height="1" fill="rgb(68,108,253)" fill-opacity="0.66"/><rect x="92" y="209" width="1" height="1" fill="rgb(80,100,255)" fill-opacity="0.42"/><rect x="93" y="209" width="1" height="1" fill="rgb(80,100,255)" fill-opacity="0.54"/><rect x="94" y="209" width="1" height="1" fill="rgb(120,130,255)" fill-opacity="0.24"/><rect x="78" y="210" width="1" height="1" fill="rgb(120,130,255)" fill-opacity="0.25"/><rect x="82" y="210" width="1" height="1" fill="rgb(80,100,255)" fill-opacity="0.50"/><rect x="83" y="210" width="1" height="1" fill="rgb(74,106,254)" fill-opacity="0.61"/><rect x="84" y="210" width="1" height="1" fill="rgb(44,118,249)" fill-opacity="0.87"/><rect x="85" y="210" width="1" height="1" fill="rgb(30,165,234)" fill-opacity="0.95"/><rect x="86" y="210" width="1" height="1" fill="rgb(37,187,162)" fill-opacity="0.95"/><rect x="87" y="210" width="1" height="1" fill="rgb(31,170,216)" fill-opacity="0.95"/><rect x="88" y="210" width="1" height="1" fill="rgb(43,118,248)" fill-opacity="0.87"/><rect x="89" y="210" width="1" height="1" fill="rgb(60,110,252)" fill-opacity="0.73"/><rect x="90" y="210" width="1" height="1" fill="rgb(64,109,252)" fill-opacity="0.70"/><rect x="91" y="210" width="1" height="1" fill="rgb(80,100,255)" fill-opacity="0.67"/><rect x="95" y="210" width="1" height="1" fill="rgb(120,130,255)" fill-opacity="0.21"/><rect x="82" y="211" width="1" height="1" fill="rgb(80,100,255)" fill-opacity="0.65"/><rect x="83" y="211" width="1" height="1" fill="rgb(80,100,255)" fill-opacity="0.48"/><rect x="85" y="211" width="1" height="1" fill="rgb(61,110,252)" fill-opacity="0.72"/><rect x="86" y="211" width="1" height="1" fill="rgb(69,108,253)" fill-opacity="0.65"/><rect x="87" y="211" width="1" height="1" fill="rgb(69,108,253)" fill-opacity="0.66"/><rect x="88" y="211" width="1" height="1" fill="rgb(74,106,254)" fill-opacity="0.61"/><rect x="90" y="211" width="1" height="1" fill="rgb(80,100,255)" fill-opacity="0.46"/><rect x="81" y="212" width="1" height="1" fill="rgb(120,130,255)" fill-opacity="0.36"/><rect x="82" y="212" width="1" height="1" fill="rgb(120,130,255)" fill-opacity="0.23"/><rect x="83" y="212" width="1" height="1" fill="rgb(120,130,255)" fill-opacity="0.41"/><rect x="84" y="212" width="1" height="1" fill="rgb(80,100,255)" fill-opacity="0.52"/><rect x="85" y="212" width="1" height="1" fill="rgb(80,100,255)" fill-opacity="0.57"/><rect x="86" y="212" width="1" height="1" fill="rgb(80,100,255)" fill-opacity="0.67"/><rect x="87" y="212" width="1" height="1" fill="rgb(80,100,255)" fill-opacity="0.58"/><rect x="79" y="213" width="1" height="1" fill="rgb(120,130,255)" fill-opacity="0.36"/><rect x="81" y="213" width="1" height="1" fill="rgb(120,130,255)" fill-opacity="0.25"/><rect x="90" y="213" width="1" height="1" fill="rgb(120,130,255)" fill-opacity="0.44"/><rect x="95" y="213" width="1" height="1" fill="rgb(120,130,255)" fill-opacity="0.37"/><rect x="84" y="214" width="1" height="1" fill="rgb(120,130,255)" fill-opacity="0.19"/></g>
<text x="72.2" y="199.12" font-size="4.14" fill="#333" textLength="10.02" lengthAdjust="spacingAndGlyphs" transform="rotate(-90 72.2 199.12)" stroke="#333" stroke-width="0.25">SSC</text>
<line x1="72.5" y1="217.6" x2="72.5" y2="204.3" stroke="#333" stroke-width="0.8" />
<path d="M71.2,204.8 L72.5,201.6 L73.8,204.8 Z" fill="#333"/>
<line x1="78.5" y1="220.4" x2="93.1" y2="220.4" stroke="#333" stroke-width="0.8" />
<path d="M92.6,219.1 L95.8,220.4 L92.6,221.7 Z" fill="#333"/>
<text x="97.09" y="222.5" font-size="5.14" fill="#333" textLength="10.21" lengthAdjust="spacingAndGlyphs" stroke="#333" stroke-width="0.25">FSC</text>
<path d="M121.75,184.2 L214.5,184.2 L214.5,263.4" stroke="#9a9a9a" stroke-width="1" fill="none"/>
<line x1="121.25" y1="263.4" x2="215" y2="263.4" stroke="#6a6a6a" stroke-width="1.0" />
<line x1="121.75" y1="183.7" x2="121.75" y2="263.4" stroke="#777" stroke-width="1.0" />
<line x1="121.15" y1="244.32" x2="122.55" y2="244.32" stroke="#888" stroke-width="0.6" />
<line x1="121.15" y1="225.23" x2="122.55" y2="225.23" stroke="#888" stroke-width="0.6" />
<line x1="121.15" y1="206.15" x2="122.55" y2="206.15" stroke="#888" stroke-width="0.6" />
<line x1="121.15" y1="187.06" x2="122.55" y2="187.06" stroke="#888" stroke-width="0.6" />
<line x1="132.53" y1="263.4" x2="132.53" y2="262.4" stroke="#aaa" stroke-width="0.5" />
<line x1="143.32" y1="263.4" x2="143.32" y2="262.4" stroke="#aaa" stroke-width="0.5" />
<line x1="154.1" y1="263.4" x2="154.1" y2="262.4" stroke="#aaa" stroke-width="0.5" />
<line x1="164.89" y1="263.4" x2="164.89" y2="262.4" stroke="#aaa" stroke-width="0.5" />
<line x1="175.67" y1="263.4" x2="175.67" y2="262.4" stroke="#aaa" stroke-width="0.5" />
<line x1="186.46" y1="263.4" x2="186.46" y2="262.4" stroke="#aaa" stroke-width="0.5" />
<line x1="197.24" y1="263.4" x2="197.24" y2="262.4" stroke="#aaa" stroke-width="0.5" />
<line x1="208.03" y1="263.4" x2="208.03" y2="262.4" stroke="#aaa" stroke-width="0.5" />
<text x="124.95" y="192.6" font-size="8.55" font-weight="bold" fill="#231f20" textLength="20.09" lengthAdjust="spacingAndGlyphs">Day4</text>
<polyline points="121.9,263 122.7,259.2 123.6,261.9 124.8,257.8 125.9,261.9 127.2,257.8 128.1,260.1 129.9,257 132.6,255.6 135.2,253.8 136.5,251.1 137.4,248.8 138.8,247.5 140.1,243.9 141.2,240.4 141.9,235.9 142.8,236.8 143.7,232.3 144.8,226 146,219.7 146.9,213.5 147.8,209 148.7,207.2 149.2,209.9 150,204.5 150.5,207.2 151.4,212.6 152.3,213.5 153.2,219.7 154.2,235 155.1,243.4 155.9,251.8 156.9,256.9 158,259 159.3,259.6 160.9,259 163.5,257.6 165.2,256.7 166.4,254.2 167.3,254.5 168.5,255.9 170.6,256.5 173.1,257.6 175.3,258.8 177.4,260.7 179.5,262.4 182,263.2 214.5,263.3" stroke="#1a1a1a" stroke-width="0.9" fill="none" stroke-linejoin="round" />
<line x1="159.3" y1="251.4" x2="183" y2="251.4" stroke="#333" stroke-width="1.0" />
<line x1="159.3" y1="249.6" x2="159.3" y2="253.2" stroke="#333" stroke-width="1.0" />
<line x1="183" y1="249.6" x2="183" y2="253.2" stroke="#333" stroke-width="1.0" />
<text x="164.17" y="247.5" font-size="7.43" fill="#222" textLength="19.98" lengthAdjust="spacingAndGlyphs">10.6%</text>
<path d="M178.4,184.2 L178.4,216.4 L214.5,216.4" stroke="#c4c4c4" stroke-width="0.7" fill="none"/>
<line x1="178.4" y1="209.4" x2="179.3" y2="209.4" stroke="#ccc" stroke-width="0.5" />
<line x1="178.4" y1="202.4" x2="179.3" y2="202.4" stroke="#ccc" stroke-width="0.5" />
<line x1="178.4" y1="195.4" x2="179.3" y2="195.4" stroke="#ccc" stroke-width="0.5" />
<line x1="178.4" y1="188.4" x2="179.3" y2="188.4" stroke="#ccc" stroke-width="0.5" />
<line x1="184.85" y1="216.4" x2="184.85" y2="215.5" stroke="#ccc" stroke-width="0.5" />
<line x1="191.29" y1="216.4" x2="191.29" y2="215.5" stroke="#ccc" stroke-width="0.5" />
<line x1="197.74" y1="216.4" x2="197.74" y2="215.5" stroke="#ccc" stroke-width="0.5" />
<line x1="204.19" y1="216.4" x2="204.19" y2="215.5" stroke="#ccc" stroke-width="0.5" />
<line x1="210.63" y1="216.4" x2="210.63" y2="215.5" stroke="#ccc" stroke-width="0.5" />
<g shape-rendering="crispEdges"><rect x="181" y="188" width="1" height="1" fill="rgb(120,130,255)" fill-opacity="0.34"/><rect x="196" y="188" width="1" height="1" fill="rgb(120,130,255)" fill-opacity="0.19"/><rect x="194" y="189" width="1" height="1" fill="rgb(120,130,255)" fill-opacity="0.36"/><rect x="180" y="190" width="1" height="1" fill="rgb(120,130,255)" fill-opacity="0.33"/><rect x="188" y="190" width="1" height="1" fill="rgb(120,130,255)" fill-opacity="0.34"/><rect x="199" y="190" width="1" height="1" fill="rgb(120,130,255)" fill-opacity="0.31"/><rect x="184" y="191" width="1" height="1" fill="rgb(120,130,255)" fill-opacity="0.20"/><rect x="191" y="191" width="1" height="1" fill="rgb(120,130,255)" fill-opacity="0.33"/><rect x="181" y="193" width="1" height="1" fill="rgb(120,130,255)" fill-opacity="0.41"/><rect x="194" y="194" width="1" height="1" fill="rgb(120,130,255)" fill-opacity="0.33"/><rect x="183" y="195" width="1" height="1" fill="rgb(120,130,255)" fill-opacity="0.39"/><rect x="196" y="195" width="1" height="1" fill="rgb(120,130,255)" fill-opacity="0.42"/><rect x="188" y="196" width="1" height="1" fill="rgb(120,130,255)" fill-opacity="0.37"/><rect x="183" y="197" width="1" height="1" fill="rgb(80,100,255)" fill-opacity="0.56"/><rect x="186" y="197" width="1" height="1" fill="rgb(120,130,255)" fill-opacity="0.25"/><rect x="191" y="197" width="1" height="1" fill="rgb(120,130,255)" fill-opacity="0.29"/><rect x="193" y="197" width="1" height="1" fill="rgb(120,130,255)" fill-opacity="0.32"/><rect x="182" y="198" width="1" height="1" fill="rgb(74,106,254)" fill-opacity="0.61"/><rect x="189" y="198" width="1" height="1" fill="rgb(120,130,255)" fill-opacity="0.34"/><rect x="182" y="199" width="1" height="1" fill="rgb(70,107,253)" fill-opacity="0.64"/><rect x="183" y="199" width="1" height="1" fill="rgb(73,106,254)" fill-opacity="0.62"/><rect x="183" y="200" width="1" height="1" fill="rgb(80,100,255)" fill-opacity="0.66"/><rect x="188" y="200" width="1" height="1" fill="rgb(120,130,255)" fill-opacity="0.24"/><rect x="191" y="200" width="1" height="1" fill="rgb(120,130,255)" fill-opacity="0.43"/><rect x="192" y="200" width="1" height="1" fill="rgb(120,130,255)" fill-opacity="0.21"/><rect x="198" y="200" width="1" height="1" fill="rgb(120,130,255)" fill-opacity="0.18"/><rect x="182" y="201" width="1" height="1" fill="rgb(73,106,254)" fill-opacity="0.62"/><rect x="183" y="201" width="1" height="1" fill="rgb(71,107,253)" fill-opacity="0.64"/><rect x="185" y="201" width="1" height="1" fill="rgb(120,130,255)" fill-opacity="0.44"/><rect x="186" y="201" width="1" height="1" fill="rgb(120,130,255)" fill-opacity="0.36"/><rect x="188" y="201" width="1" height="1" fill="rgb(120,130,255)" fill-opacity="0.25"/><rect x="191" y="201" width="1" height="1" fill="rgb(120,130,255)" fill-opacity="0.36"/><rect x="182" y="202" width="1" height="1" fill="rgb(73,106,254)" fill-opacity="0.62"/><rect x="183" y="202" width="1" height="1" fill="rgb(71,107,253)" fill-opacity="0.63"/><rect x="184" y="202" width="1" height="1" fill="rgb(80,100,255)" fill-opacity="0.55"/><rect x="186" y="202" width="1" height="1" fill="rgb(120,130,255)" fill-opacity="0.18"/><rect x="188" y="202" width="1" height="1" fill="rgb(120,130,255)" fill-opacity="0.41"/><rect x="190" y="202" width="1" height="1" fill="rgb(120,130,255)" fill-opacity="0.24"/><rect x="195" y="202" width="1" height="1" fill="rgb(120,130,255)" fill-opacity="0.40"/><rect x="182" y="203" width="1" height="1" fill="rgb(80,100,255)" fill-opacity="0.46"/><rect x="183" y="203" width="1" height="1" fill="rgb(66,108,253)" fill-opacity="0.68"/><rect x="184" y="203" width="1" height="1" fill="rgb(80,100,255)" fill-opacity="0.59"/><rect x="195" y="203" width="1" height="1" fill="rgb(120,130,255)" fill-opacity="0.24"/><rect x="198" y="203" width="1" height="1" fill="rgb(120,130,255)" fill-opacity="0.25"/><rect x="183" y="204" width="1" height="1" fill="rgb(71,107,253)" fill-opacity="0.64"/><rect x="184" y="204" width="1" height="1" fill="rgb(80,100,255)" fill-opacity="0.38"/><rect x="188" y="204" width="1" height="1" fill="rgb(80,100,255)" fill-opacity="0.46"/><rect x="195" y="204" width="1" height="1" fill="rgb(120,130,255)" fill-opacity="0.35"/><rect x="181" y="205" width="1" height="1" fill="rgb(120,130,255)" fill-opacity="0.37"/><rect x="183" y="205" width="1" height="1" fill="rgb(71,107,253)" fill-opacity="0.64"/><rect x="184" y="205" width="1" height="1" fill="rgb(68,108,253)" fill-opacity="0.66"/><rect x="188" y="205" width="1" height="1" fill="rgb(80,100,255)" fill-opacity="0.39"/><rect x="193" y="205" width="1" height="1" fill="rgb(80,100,255)" fill-opacity="0.66"/><rect x="195" y="205" width="1" height="1" fill="rgb(120,130,255)" fill-opacity="0.23"/><rect x="183" y="206" width="1" height="1" fill="rgb(73,106,254)" fill-opacity="0.62"/><rect x="184" y="206" width="1" height="1" fill="rgb(65,109,252)" fill-opacity="0.68"/><rect x="185" y="206" width="1" height="1" fill="rgb(80,100,255)" fill-opacity="0.61"/><rect x="186" y="206" width="1" height="1" fill="rgb(80,100,255)" fill-opacity="0.57"/><rect x="187" y="206" width="1" height="1" fill="rgb(80,100,255)" fill-opacity="0.64"/><rect x="188" y="206" width="1" height="1" fill="rgb(74,106,254)" fill-opacity="0.61"/><rect x="190" y="206" width="1" height="1" fill="rgb(75,106,254)" fill-opacity="0.60"/><rect x="191" y="206" width="1" height="1" fill="rgb(71,107,253)" fill-opacity="0.63"/><rect x="192" y="206" width="1" height="1" fill="rgb(80,100,255)" fill-opacity="0.50"/><rect x="194" y="206" width="1" height="1" fill="rgb(80,100,255)" fill-opacity="0.35"/><rect x="195" y="206" width="1" height="1" fill="rgb(120,130,255)" fill-opacity="0.40"/><rect x="196" y="206" width="1" height="1" fill="rgb(120,130,255)" fill-opacity="0.31"/><rect x="182" y="207" width="1" height="1" fill="rgb(120,130,255)" fill-opacity="0.39"/><rect x="183" y="207" width="1" height="1" fill="rgb(72,107,253)" fill-opacity="0.63"/><rect x="184" y="207" width="1" height="1" fill="rgb(63,109,252)" fill-opacity="0.70"/><rect x="185" y="207" width="1" height="1" fill="rgb(75,106,254)" fill-opacity="0.61"/><rect x="186" y="207" width="1" height="1" fill="rgb(80,100,255)" fill-opacity="0.46"/><rect x="187" y="207" width="1" height="1" fill="rgb(73,106,254)" fill-opacity="0.62"/><rect x="188" y="207" width="1" height="1" fill="rgb(68,108,253)" fill-opacity="0.66"/><rect x="189" y="207" width="1" height="1" fill="rgb(60,110,252)" fill-opacity="0.72"/><rect x="190" y="207" width="1" height="1" fill="rgb(47,114,250)" fill-opacity="0.83"/><rect x="191" y="207" width="1" height="1" fill="rgb(61,110,252)" fill-opacity="0.72"/><rect x="192" y="207" width="1" height="1" fill="rgb(64,109,252)" fill-opacity="0.69"/><rect x="193" y="207" width="1" height="1" fill="rgb(80,100,255)" fill-opacity="0.62"/><rect x="194" y="207" width="1" height="1" fill="rgb(80,100,255)" fill-opacity="0.65"/><rect x="200" y="207" width="1" height="1" fill="rgb(120,130,255)" fill-opacity="0.22"/><rect x="182" y="208" width="1" height="1" fill="rgb(80,100,255)" fill-opacity="0.49"/><rect x="183" y="208" width="1" height="1" fill="rgb(74,106,254)" fill-opacity="0.61"/><rect x="184" y="208" width="1" height="1" fill="rgb(54,112,251)" fill-opacity="0.78"/><rect x="185" y="208" width="1" height="1" fill="rgb(70,107,253)" fill-opacity="0.64"/><rect x="186" y="208" width="1" height="1" fill="rgb(58,111,251)" fill-opacity="0.74"/><rect x="187" y="208" width="1" height="1" fill="rgb(45,114,250)" fill-opacity="0.85"/><rect x="188" y="208" width="1" height="1" fill="rgb(49,113,250)" fill-opacity="0.82"/><rect x="189" y="208" width="1" height="1" fill="rgb(34,149,239)" fill-opacity="0.95"/><rect x="190" y="208" width="1" height="1" fill="rgb(35,146,240)" fill-opacity="0.95"/><rect x="191" y="208" width="1" height="1" fill="rgb(42,124,247)" fill-opacity="0.89"/><rect x="192" y="208" width="1" height="1" fill="rgb(54,112,251)" fill-opacity="0.78"/><rect x="195" y="208" width="1" height="1" fill="rgb(120,130,255)" fill-opacity="0.40"/><rect x="184" y="209" width="1" height="1" fill="rgb(54,112,251)" fill-opacity="0.78"/><rect x="185" y="209" width="1" height="1" fill="rgb(54,112,251)" fill-opacity="0.77"/><rect x="186" y="209" width="1" height="1" fill="rgb(38,137,243)" fill-opacity="0.95"/><rect x="187" y="209" width="1" height="1" fill="rgb(39,193,145)" fill-opacity="0.95"/><rect x="188" y="209" width="1" height="1" fill="rgb(180,190,40)" fill-opacity="0.95"/><rect x="189" y="209" width="1" height="1" fill="rgb(69,195,105)" fill-opacity="0.95"/><rect x="190" y="209" width="1" height="1" fill="rgb(33,175,201)" fill-opacity="0.95"/><rect x="191" y="209" width="1" height="1" fill="rgb(41,126,246)" fill-opacity="0.90"/><rect x="192" y="209" width="1" height="1" fill="rgb(63,109,252)" fill-opacity="0.70"/><rect x="194" y="209" width="1" height="1" fill="rgb(80,100,255)" fill-opacity="0.38"/><rect x="183" y="210" width="1" height="1" fill="rgb(70,107,253)" fill-opacity="0.64"/><rect x="184" y="210" width="1" height="1" fill="rgb(38,135,243)" fill-opacity="0.94"/><rect x="185" y="210" width="1" height="1" fill="rgb(32,171,214)" fill-opacity="0.95"/><rect x="186" y="210" width="1" height="1" fill="rgb(134,192,56)" fill-opacity="0.95"/><rect x="187" y="210" width="1" height="1" fill="rgb(103,194,68)" fill-opacity="0.95"/><rect x="188" y="210" width="1" height="1" fill="rgb(180,190,40)" fill-opacity="0.95"/><rect x="189" y="210" width="1" height="1" fill="rgb(87,195,84)" fill-opacity="0.95"/><rect x="190" y="210" width="1" height="1" fill="rgb(87,195,85)" fill-opacity="0.95"/><rect x="191" y="210" width="1" height="1" fill="rgb(47,114,250)" fill-opacity="0.83"/><rect x="192" y="210" width="1" height="1" fill="rgb(66,108,253)" fill-opacity="0.68"/><rect x="195" y="210" width="1" height="1" fill="rgb(120,130,255)" fill-opacity="0.33"/><rect x="181" y="211" width="1" height="1" fill="rgb(120,130,255)" fill-opacity="0.38"/><rect x="183" y="211" width="1" height="1" fill="rgb(58,111,251)" fill-opacity="0.74"/><rect x="184" y="211" width="1" height="1" fill="rgb(40,129,245)" fill-opacity="0.91"/><rect x="185" y="211" width="1" height="1" fill="rgb(136,192,56)" fill-opacity="0.95"/><rect x="186" y="211" width="1" height="1" fill="rgb(111,194,65)" fill-opacity="0.95"/><rect x="187" y="211" width="1" height="1" fill="rgb(88,195,83)" fill-opacity="0.95"/><rect x="188" y="211" width="1" height="1" fill="rgb(180,190,40)" fill-opacity="0.95"/><rect x="189" y="211" width="1" height="1" fill="rgb(88,195,83)" fill-opacity="0.95"/><rect x="190" y="211" width="1" height="1" fill="rgb(34,177,195)" fill-opacity="0.95"/><rect x="191" y="211" width="1" height="1" fill="rgb(53,112,251)" fill-opacity="0.78"/><rect x="192" y="211" width="1" height="1" fill="rgb(80,100,255)" fill-opacity="0.35"/><rect x="181" y="212" width="1" height="1" fill="rgb(120,130,255)" fill-opacity="0.28"/><rect x="182" y="212" width="1" height="1" fill="rgb(80,100,255)" fill-opacity="0.49"/><rect x="183" y="212" width="1" height="1" fill="rgb(62,109,252)" fill-opacity="0.71"/><rect x="184" y="212" width="1" height="1" fill="rgb(59,195,117)" fill-opacity="0.95"/><rect x="185" y="212" width="1" height="1" fill="rgb(99,195,70)" fill-opacity="0.95"/><rect x="186" y="212" width="1" height="1" fill="rgb(68,195,107)" fill-opacity="0.95"/><rect x="187" y="212" width="1" height="1" fill="rgb(62,195,113)" fill-opacity="0.95"/><rect x="188" y="212" width="1" height="1" fill="rgb(81,195,91)" fill-opacity="0.95"/><rect x="189" y="212" width="1" height="1" fill="rgb(89,195,81)" fill-opacity="0.95"/><rect x="190" y="212" width="1" height="1" fill="rgb(52,112,251)" fill-opacity="0.79"/><rect x="191" y="212" width="1" height="1" fill="rgb(80,100,255)" fill-opacity="0.36"/><rect x="180" y="213" width="1" height="1" fill="rgb(120,130,255)" fill-opacity="0.40"/><rect x="181" y="213" width="1" height="1" fill="rgb(120,130,255)" fill-opacity="0.19"/><rect x="182" y="213" width="1" height="1" fill="rgb(80,100,255)" fill-opacity="0.67"/><rect x="183" y="213" width="1" height="1" fill="rgb(55,112,251)" fill-opacity="0.77"/><rect x="184" y="213" width="1" height="1" fill="rgb(39,193,145)" fill-opacity="0.95"/><rect x="185" y="213" width="1" height="1" fill="rgb(118,193,62)" fill-opacity="0.95"/><rect x="186" y="213" width="1" height="1" fill="rgb(180,190,40)" fill-opacity="0.95"/><rect x="187" y="213" width="1" height="1" fill="rgb(68,195,107)" fill-opacity="0.95"/><rect x="188" y="213" width="1" height="1" fill="rgb(31,168,225)" fill-opacity="0.95"/><rect x="189" y="213" width="1" height="1" fill="rgb(55,111,251)" fill-opacity="0.77"/><rect x="191" y="213" width="1" height="1" fill="rgb(80,100,255)" fill-opacity="0.66"/><rect x="192" y="213" width="1" height="1" fill="rgb(120,130,255)" fill-opacity="0.19"/><rect x="193" y="213" width="1" height="1" fill="rgb(120,130,255)" fill-opacity="0.31"/><rect x="182" y="214" width="1" height="1" fill="rgb(80,100,255)" fill-opacity="0.37"/><rect x="183" y="214" width="1" height="1" fill="rgb(55,111,251)" fill-opacity="0.77"/><rect x="184" y="214" width="1" height="1" fill="rgb(32,155,237)" fill-opacity="0.95"/><rect x="185" y="214" width="1" height="1" fill="rgb(40,195,139)" fill-opacity="0.95"/><rect x="186" y="214" width="1" height="1" fill="rgb(30,165,234)" fill-opacity="0.95"/><rect x="187" y="214" width="1" height="1" fill="rgb(47,114,250)" fill-opacity="0.84"/><rect x="188" y="214" width="1" height="1" fill="rgb(59,110,252)" fill-opacity="0.73"/><rect x="195" y="214" width="1" height="1" fill="rgb(120,130,255)" fill-opacity="0.40"/><rect x="183" y="215" width="1" height="1" fill="rgb(72,107,253)" fill-opacity="0.63"/><rect x="184" y="215" width="1" height="1" fill="rgb(64,109,252)" fill-opacity="0.69"/><rect x="185" y="215" width="1" height="1" fill="rgb(57,111,251)" fill-opacity="0.75"/><rect x="186" y="215" width="1" height="1" fill="rgb(62,110,252)" fill-opacity="0.71"/><rect x="188" y="215" width="1" height="1" fill="rgb(80,100,255)" fill-opacity="0.54"/></g>
<circle cx="181" cy="215.6" r="0.9" stroke="none" stroke-width="0" fill="#e08a30" />
<path d="M21.5,276.5 L114.5,276.5 L114.5,355.7" stroke="#9a9a9a" stroke-width="1" fill="none"/>
<line x1="21" y1="355.7" x2="115" y2="355.7" stroke="#6a6a6a" stroke-width="1.0" />
<line x1="21.5" y1="276" x2="21.5" y2="355.7" stroke="#9a9a9a" stroke-width="1.0" />
<line x1="20.9" y1="336.62" x2="22.3" y2="336.62" stroke="#888" stroke-width="0.6" />
<line x1="20.9" y1="317.53" x2="22.3" y2="317.53" stroke="#888" stroke-width="0.6" />
<line x1="20.9" y1="298.45" x2="22.3" y2="298.45" stroke="#888" stroke-width="0.6" />
<line x1="20.9" y1="279.36" x2="22.3" y2="279.36" stroke="#888" stroke-width="0.6" />
<line x1="32.31" y1="355.7" x2="32.31" y2="354.7" stroke="#aaa" stroke-width="0.5" />
<line x1="43.13" y1="355.7" x2="43.13" y2="354.7" stroke="#aaa" stroke-width="0.5" />
<line x1="53.94" y1="355.7" x2="53.94" y2="354.7" stroke="#aaa" stroke-width="0.5" />
<line x1="64.76" y1="355.7" x2="64.76" y2="354.7" stroke="#aaa" stroke-width="0.5" />
<line x1="75.57" y1="355.7" x2="75.57" y2="354.7" stroke="#aaa" stroke-width="0.5" />
<line x1="86.38" y1="355.7" x2="86.38" y2="354.7" stroke="#aaa" stroke-width="0.5" />
<line x1="97.2" y1="355.7" x2="97.2" y2="354.7" stroke="#aaa" stroke-width="0.5" />
<line x1="108.01" y1="355.7" x2="108.01" y2="354.7" stroke="#aaa" stroke-width="0.5" />
<text x="22.26" y="285.1" font-size="8.55" font-weight="bold" fill="#231f20" textLength="19.85" lengthAdjust="spacingAndGlyphs">Day5</text>
<polyline points="21.7,355.3 24.2,354.4 28.5,353.8 32.7,352.7 37,351.7 40.1,350 42.3,347.4 44.4,342.5 46.5,337.2 48.2,330.9 49.3,327.7 50.7,325.6 52,323.4 52.9,321.8 53.9,323.5 55,325.6 56.5,330.9 57.7,333.4 58.8,330.9 60.3,322.4 61.8,311.8 63,299.1 64.1,288.5 64.9,283.8 65.8,288.5 66.6,303.3 67.7,322.4 68.8,339.4 69.8,350 71.5,353.8 75.1,355.2 114.4,355.2" stroke="#1a1a1a" stroke-width="0.9" fill="none" stroke-linejoin="round" />
<line x1="57.3" y1="323.4" x2="83.6" y2="323.4" stroke="#333" stroke-width="1.0" />
<line x1="57.3" y1="321.5" x2="57.3" y2="325.3" stroke="#333" stroke-width="1.0" />
<line x1="83.6" y1="321.5" x2="83.6" y2="325.3" stroke="#333" stroke-width="1.0" />
<text x="70.72" y="321.1" font-size="7.14" fill="#222" textLength="20.44" lengthAdjust="spacingAndGlyphs">47.8%</text>
<path d="M78.4,276.5 L78.4,309.9 L114.5,309.9" stroke="#c4c4c4" stroke-width="0.7" fill="none"/>
<line x1="78.4" y1="302.64" x2="79.3" y2="302.64" stroke="#ccc" stroke-width="0.5" />
<line x1="78.4" y1="295.38" x2="79.3" y2="295.38" stroke="#ccc" stroke-width="0.5" />
<line x1="78.4" y1="288.12" x2="79.3" y2="288.12" stroke="#ccc" stroke-width="0.5" />
<line x1="78.4" y1="280.86" x2="79.3" y2="280.86" stroke="#ccc" stroke-width="0.5" />
<line x1="84.85" y1="309.9" x2="84.85" y2="309" stroke="#ccc" stroke-width="0.5" />
<line x1="91.29" y1="309.9" x2="91.29" y2="309" stroke="#ccc" stroke-width="0.5" />
<line x1="97.74" y1="309.9" x2="97.74" y2="309" stroke="#ccc" stroke-width="0.5" />
<line x1="104.19" y1="309.9" x2="104.19" y2="309" stroke="#ccc" stroke-width="0.5" />
<line x1="110.63" y1="309.9" x2="110.63" y2="309" stroke="#ccc" stroke-width="0.5" />
<g shape-rendering="crispEdges"><rect x="92" y="278" width="1" height="1" fill="rgb(120,130,255)" fill-opacity="0.41"/><rect x="103" y="279" width="1" height="1" fill="rgb(120,130,255)" fill-opacity="0.35"/><rect x="93" y="281" width="1" height="1" fill="rgb(120,130,255)" fill-opacity="0.35"/><rect x="94" y="281" width="1" height="1" fill="rgb(120,130,255)" fill-opacity="0.25"/><rect x="97" y="281" width="1" height="1" fill="rgb(120,130,255)" fill-opacity="0.19"/><rect x="100" y="281" width="1" height="1" fill="rgb(120,130,255)" fill-opacity="0.32"/><rect x="93" y="282" width="1" height="1" fill="rgb(120,130,255)" fill-opacity="0.20"/><rect x="95" y="282" width="1" height="1" fill="rgb(120,130,255)" fill-opacity="0.41"/><rect x="99" y="282" width="1" height="1" fill="rgb(120,130,255)" fill-opacity="0.39"/><rect x="102" y="282" width="1" height="1" fill="rgb(120,130,255)" fill-opacity="0.27"/><rect x="92" y="283" width="1" height="1" fill="rgb(120,130,255)" fill-opacity="0.31"/><rect x="81" y="284" width="1" height="1" fill="rgb(120,130,255)" fill-opacity="0.27"/><rect x="95" y="284" width="1" height="1" fill="rgb(120,130,255)" fill-opacity="0.31"/><rect x="106" y="284" width="1" height="1" fill="rgb(120,130,255)" fill-opacity="0.37"/><rect x="110" y="284" width="1" height="1" fill="rgb(120,130,255)" fill-opacity="0.32"/><rect x="99" y="285" width="1" height="1" fill="rgb(120,130,255)" fill-opacity="0.39"/><rect x="85" y="286" width="1" height="1" fill="rgb(120,130,255)" fill-opacity="0.20"/><rect x="95" y="286" width="1" height="1" fill="rgb(120,130,255)" fill-opacity="0.24"/><rect x="96" y="286" width="1" height="1" fill="rgb(120,130,255)" fill-opacity="0.30"/><rect x="99" y="286" width="1" height="1" fill="rgb(120,130,255)" fill-opacity="0.21"/><rect x="101" y="286" width="1" height="1" fill="rgb(120,130,255)" fill-opacity="0.30"/><rect x="104" y="286" width="1" height="1" fill="rgb(120,130,255)" fill-opacity="0.44"/><rect x="108" y="286" width="1" height="1" fill="rgb(120,130,255)" fill-opacity="0.38"/><rect x="82" y="287" width="1" height="1" fill="rgb(120,130,255)" fill-opacity="0.20"/><rect x="83" y="287" width="1" height="1" fill="rgb(120,130,255)" fill-opacity="0.19"/><rect x="91" y="287" width="1" height="1" fill="rgb(120,130,255)" fill-opacity="0.29"/><rect x="103" y="287" width="1" height="1" fill="rgb(120,130,255)" fill-opacity="0.31"/><rect x="90" y="288" width="1" height="1" fill="rgb(120,130,255)" fill-opacity="0.44"/><rect x="97" y="288" width="1" height="1" fill="rgb(120,130,255)" fill-opacity="0.41"/><rect x="102" y="288" width="1" height="1" fill="rgb(120,130,255)" fill-opacity="0.33"/><rect x="84" y="289" width="1" height="1" fill="rgb(120,130,255)" fill-opacity="0.38"/><rect x="86" y="289" width="1" height="1" fill="rgb(120,130,255)" fill-opacity="0.38"/><rect x="91" y="289" width="1" height="1" fill="rgb(120,130,255)" fill-opacity="0.22"/><rect x="104" y="289" width="1" height="1" fill="rgb(120,130,255)" fill-opacity="0.24"/><rect x="107" y="289" width="1" height="1" fill="rgb(120,130,255)" fill-opacity="0.23"/><rect x="109" y="289" width="1" height="1" fill="rgb(120,130,255)" fill-opacity="0.33"/><rect x="86" y="290" width="1" height="1" fill="rgb(120,130,255)" fill-opacity="0.35"/><rect x="104" y="290" width="1" height="1" fill="rgb(120,130,255)" fill-opacity="0.36"/><rect x="82" y="291" width="1" height="1" fill="rgb(120,130,255)" fill-opacity="0.32"/><rect x="86" y="291" width="1" height="1" fill="rgb(80,100,255)" fill-opacity="0.44"/><rect x="88" y="291" width="1" height="1" fill="rgb(120,130,255)" fill-opacity="0.24"/><rect x="89" y="291" width="1" height="1" fill="rgb(120,130,255)" fill-opacity="0.42"/><rect x="92" y="291" width="1" height="1" fill="rgb(120,130,255)" fill-opacity="0.39"/><rect x="99" y="291" width="1" height="1" fill="rgb(120,130,255)" fill-opacity="0.21"/><rect x="106" y="291" width="1" height="1" fill="rgb(120,130,255)" fill-opacity="0.27"/><rect x="84" y="292" width="1" height="1" fill="rgb(80,100,255)" fill-opacity="0.65"/><rect x="87" y="292" width="1" height="1" fill="rgb(120,130,255)" fill-opacity="0.33"/><rect x="88" y="292" width="1" height="1" fill="rgb(120,130,255)" fill-opacity="0.34"/><rect x="95" y="292" width="1" height="1" fill="rgb(120,130,255)" fill-opacity="0.32"/><rect x="102" y="292" width="1" height="1" fill="rgb(120,130,255)" fill-opacity="0.29"/><rect x="81" y="293" width="1" height="1" fill="rgb(120,130,255)" fill-opacity="0.20"/><rect x="82" y="293" width="1" height="1" fill="rgb(120,130,255)" fill-opacity="0.19"/><rect x="84" y="293" width="1" height="1" fill="rgb(75,106,254)" fill-opacity="0.60"/><rect x="92" y="293" width="1" height="1" fill="rgb(120,130,255)" fill-opacity="0.19"/><rect x="93" y="293" width="1" height="1" fill="rgb(120,130,255)" fill-opacity="0.40"/><rect x="99" y="293" width="1" height="1" fill="rgb(120,130,255)" fill-opacity="0.30"/><rect x="101" y="293" width="1" height="1" fill="rgb(120,130,255)" fill-opacity="0.31"/><rect x="107" y="293" width="1" height="1" fill="rgb(120,130,255)" fill-opacity="0.43"/><rect x="82" y="294" width="1" height="1" fill="rgb(80,100,255)" fill-opacity="0.62"/><rect x="83" y="294" width="1" height="1" fill="rgb(60,110,252)" fill-opacity="0.73"/><rect x="84" y="294" width="1" height="1" fill="rgb(55,111,251)" fill-opacity="0.77"/><rect x="85" y="294" width="1" height="1" fill="rgb(72,107,253)" fill-opacity="0.63"/><rect x="86" y="294" width="1" height="1" fill="rgb(80,100,255)" fill-opacity="0.50"/><rect x="87" y="294" width="1" height="1" fill="rgb(120,130,255)" fill-opacity="0.42"/><rect x="89" y="294" width="1" height="1" fill="rgb(120,130,255)" fill-opacity="0.43"/><rect x="91" y="294" width="1" height="1" fill="rgb(120,130,255)" fill-opacity="0.31"/><rect x="93" y="294" width="1" height="1" fill="rgb(120,130,255)" fill-opacity="0.29"/><rect x="94" y="294" width="1" height="1" fill="rgb(120,130,255)" fill-opacity="0.25"/><rect x="96" y="294" width="1" height="1" fill="rgb(120,130,255)" fill-opacity="0.24"/><rect x="82" y="295" width="1" height="1" fill="rgb(63,109,252)" fill-opacity="0.70"/><rect x="83" y="295" width="1" height="1" fill="rgb(47,114,250)" fill-opacity="0.83"/><rect x="84" y="295" width="1" height="1" fill="rgb(48,113,250)" fill-opacity="0.83"/><rect x="85" y="295" width="1" height="1" fill="rgb(70,107,253)" fill-opacity="0.65"/><rect x="86" y="295" width="1" height="1" fill="rgb(80,100,255)" fill-opacity="0.38"/><rect x="101" y="295" width="1" height="1" fill="rgb(120,130,255)" fill-opacity="0.19"/><rect x="82" y="296" width="1" height="1" fill="rgb(39,132,244)" fill-opacity="0.93"/><rect x="83" y="296" width="1" height="1" fill="rgb(38,135,243)" fill-opacity="0.94"/><rect x="84" y="296" width="1" height="1" fill="rgb(37,141,242)" fill-opacity="0.95"/><rect x="85" y="296" width="1" height="1" fill="rgb(66,108,253)" fill-opacity="0.67"/><rect x="88" y="296" width="1" height="1" fill="rgb(120,130,255)" fill-opacity="0.36"/><rect x="95" y="296" width="1" height="1" fill="rgb(120,130,255)" fill-opacity="0.23"/><rect x="96" y="296" width="1" height="1" fill="rgb(120,130,255)" fill-opacity="0.38"/><rect x="99" y="296" width="1" height="1" fill="rgb(120,130,255)" fill-opacity="0.33"/><rect x="108" y="296" width="1" height="1" fill="rgb(120,130,255)" fill-opacity="0.20"/><rect x="112" y="296" width="1" height="1" fill="rgb(120,130,255)" fill-opacity="0.26"/><rect x="81" y="297" width="1" height="1" fill="rgb(63,109,252)" fill-opacity="0.70"/><rect x="82" y="297" width="1" height="1" fill="rgb(47,195,131)" fill-opacity="0.95"/><rect x="83" y="297" width="1" height="1" fill="rgb(33,174,203)" fill-opacity="0.95"/><rect x="84" y="297" width="1" height="1" fill="rgb(31,159,236)" fill-opacity="0.95"/><rect x="85" y="297" width="1" height="1" fill="rgb(74,106,254)" fill-opacity="0.61"/><rect x="94" y="297" width="1" height="1" fill="rgb(120,130,255)" fill-opacity="0.27"/><rect x="101" y="297" width="1" height="1" fill="rgb(120,130,255)" fill-opacity="0.43"/><rect x="80" y="298" width="1" height="1" fill="rgb(80,100,255)" fill-opacity="0.40"/><rect x="81" y="298" width="1" height="1" fill="rgb(36,143,241)" fill-opacity="0.95"/><rect x="82" y="298" width="1" height="1" fill="rgb(47,195,131)" fill-opacity="0.95"/><rect x="83" y="298" width="1" height="1" fill="rgb(180,190,40)" fill-opacity="0.95"/><rect x="84" y="298" width="1" height="1" fill="rgb(45,114,250)" fill-opacity="0.86"/><rect x="85" y="298" width="1" height="1" fill="rgb(71,107,253)" fill-opacity="0.64"/><rect x="86" y="298" width="1" height="1" fill="rgb(120,130,255)" fill-opacity="0.38"/><rect x="91" y="298" width="1" height="1" fill="rgb(120,130,255)" fill-opacity="0.36"/><rect x="95" y="298" width="1" height="1" fill="rgb(80,100,255)" fill-opacity="0.46"/><rect x="96" y="298" width="1" height="1" fill="rgb(80,100,255)" fill-opacity="0.52"/><rect x="80" y="299" width="1" height="1" fill="rgb(71,107,253)" fill-opacity="0.64"/><rect x="81" y="299" width="1" height="1" fill="rgb(84,195,88)" fill-opacity="0.95"/><rect x="82" y="299" width="1" height="1" fill="rgb(171,190,43)" fill-opacity="0.95"/><rect x="83" y="299" width="1" height="1" fill="rgb(131,193,58)" fill-opacity="0.95"/><rect x="84" y="299" width="1" height="1" fill="rgb(41,126,246)" fill-opacity="0.90"/><rect x="85" y="299" width="1" height="1" fill="rgb(80,100,255)" fill-opacity="0.49"/><rect x="87" y="299" width="1" height="1" fill="rgb(120,130,255)" fill-opacity="0.42"/><rect x="89" y="299" width="1" height="1" fill="rgb(80,100,255)" fill-opacity="0.62"/><rect x="90" y="299" width="1" height="1" fill="rgb(80,100,255)" fill-opacity="0.56"/><rect x="91" y="299" width="1" height="1" fill="rgb(80,100,255)" fill-opacity="0.65"/><rect x="92" y="299" width="1" height="1" fill="rgb(80,100,255)" fill-opacity="0.40"/><rect x="94" y="299" width="1" height="1" fill="rgb(80,100,255)" fill-opacity="0.51"/><rect x="95" y="299" width="1" height="1" fill="rgb(80,100,255)" fill-opacity="0.36"/><rect x="96" y="299" width="1" height="1" fill="rgb(80,100,255)" fill-opacity="0.48"/><rect x="97" y="299" width="1" height="1" fill="rgb(80,100,255)" fill-opacity="0.38"/><rect x="98" y="299" width="1" height="1" fill="rgb(80,100,255)" fill-opacity="0.43"/><rect x="99" y="299" width="1" height="1" fill="rgb(120,130,255)" fill-opacity="0.42"/><rect x="80" y="300" width="1" height="1" fill="rgb(37,140,242)" fill-opacity="0.95"/><rect x="81" y="300" width="1" height="1" fill="rgb(104,194,68)" fill-opacity="0.95"/><rect x="82" y="300" width="1" height="1" fill="rgb(180,190,40)" fill-opacity="0.95"/><rect x="83" y="300" width="1" height="1" fill="rgb(60,195,116)" fill-opacity="0.95"/><rect x="84" y="300" width="1" height="1" fill="rgb(42,123,247)" fill-opacity="0.89"/><rect x="85" y="300" width="1" height="1" fill="rgb(80,100,255)" fill-opacity="0.58"/><rect x="86" y="300" width="1" height="1" fill="rgb(80,100,255)" fill-opacity="0.39"/><rect x="87" y="300" width="1" height="1" fill="rgb(80,100,255)" fill-opacity="0.66"/><rect x="88" y="300" width="1" height="1" fill="rgb(80,100,255)" fill-opacity="0.46"/><rect x="89" y="300" width="1" height="1" fill="rgb(80,100,255)" fill-opacity="0.54"/><rect x="90" y="300" width="1" height="1" fill="rgb(80,100,255)" fill-opacity="0.45"/><rect x="91" y="300" width="1" height="1" fill="rgb(75,106,254)" fill-opacity="0.60"/><rect x="92" y="300" width="1" height="1" fill="rgb(68,108,253)" fill-opacity="0.66"/><rect x="93" y="300" width="1" height="1" fill="rgb(72,107,253)" fill-opacity="0.62"/><rect x="94" y="300" width="1" height="1" fill="rgb(70,107,253)" fill-opacity="0.65"/><rect x="95" y="300" width="1" height="1" fill="rgb(80,100,255)" fill-opacity="0.41"/><rect x="80" y="301" width="1" height="1" fill="rgb(35,180,185)" fill-opacity="0.95"/><rect x="81" y="301" width="1" height="1" fill="rgb(180,190,40)" fill-opacity="0.95"/><rect x="82" y="301" width="1" height="1" fill="rgb(180,190,40)" fill-opacity="0.95"/><rect x="83" y="301" width="1" height="1" fill="rgb(34,179,188)" fill-opacity="0.95"/><rect x="84" y="301" width="1" height="1" fill="rgb(51,113,250)" fill-opacity="0.80"/><rect x="85" y="301" width="1" height="1" fill="rgb(80,100,255)" fill-opacity="0.64"/><rect x="87" y="301" width="1" height="1" fill="rgb(80,100,255)" fill-opacity="0.60"/><rect x="89" y="301" width="1" height="1" fill="rgb(60,110,252)" fill-opacity="0.73"/><rect x="90" y="301" width="1" height="1" fill="rgb(64,109,252)" fill-opacity="0.69"/><rect x="91" y="301" width="1" height="1" fill="rgb(49,113,250)" fill-opacity="0.82"/><rect x="92" y="301" width="1" height="1" fill="rgb(46,114,250)" fill-opacity="0.84"/><rect x="93" y="301" width="1" height="1" fill="rgb(52,112,251)" fill-opacity="0.79"/><rect x="94" y="301" width="1" height="1" fill="rgb(57,111,251)" fill-opacity="0.76"/><rect x="95" y="301" width="1" height="1" fill="rgb(68,108,253)" fill-opacity="0.66"/><rect x="96" y="301" width="1" height="1" fill="rgb(80,100,255)" fill-opacity="0.54"/><rect x="97" y="301" width="1" height="1" fill="rgb(80,100,255)" fill-opacity="0.56"/><rect x="100" y="301" width="1" height="1" fill="rgb(120,130,255)" fill-opacity="0.38"/><rect x="80" y="302" width="1" height="1" fill="rgb(66,195,108)" fill-opacity="0.95"/><rect x="81" y="302" width="1" height="1" fill="rgb(180,190,40)" fill-opacity="0.95"/><rect x="82" y="302" width="1" height="1" fill="rgb(180,190,40)" fill-opacity="0.95"/><rect x="83" y="302" width="1" height="1" fill="rgb(32,173,207)" fill-opacity="0.95"/><rect x="84" y="302" width="1" height="1" fill="rgb(61,110,252)" fill-opacity="0.72"/><rect x="86" y="302" width="1" height="1" fill="rgb(74,106,254)" fill-opacity="0.61"/><rect x="87" y="302" width="1" height="1" fill="rgb(62,109,252)" fill-opacity="0.71"/><rect x="88" y="302" width="1" height="1" fill="rgb(49,113,250)" fill-opacity="0.82"/><rect x="89" y="302" width="1" height="1" fill="rgb(33,152,238)" fill-opacity="0.95"/><rect x="90" y="302" width="1" height="1" fill="rgb(38,137,243)" fill-opacity="0.94"/><rect x="91" y="302" width="1" height="1" fill="rgb(34,177,194)" fill-opacity="0.95"/><rect x="92" y="302" width="1" height="1" fill="rgb(36,142,241)" fill-opacity="0.95"/><rect x="93" y="302" width="1" height="1" fill="rgb(34,149,239)" fill-opacity="0.95"/><rect x="94" y="302" width="1" height="1" fill="rgb(61,110,252)" fill-opacity="0.72"/><rect x="95" y="302" width="1" height="1" fill="rgb(69,108,253)" fill-opacity="0.66"/><rect x="97" y="302" width="1" height="1" fill="rgb(80,100,255)" fill-opacity="0.40"/><rect x="80" y="303" width="1" height="1" fill="rgb(71,195,103)" fill-opacity="0.95"/><rect x="81" y="303" width="1" height="1" fill="rgb(58,195,118)" fill-opacity="0.95"/><rect x="82" y="303" width="1" height="1" fill="rgb(180,190,40)" fill-opacity="0.95"/><rect x="83" y="303" width="1" height="1" fill="rgb(34,150,239)" fill-opacity="0.95"/><rect x="84" y="303" width="1" height="1" fill="rgb(66,108,253)" fill-opacity="0.67"/><rect x="85" y="303" width="1" height="1" fill="rgb(58,111,251)" fill-opacity="0.75"/><rect x="86" y="303" width="1" height="1" fill="rgb(44,116,249)" fill-opacity="0.86"/><rect x="87" y="303" width="1" height="1" fill="rgb(41,127,246)" fill-opacity="0.90"/><rect x="88" y="303" width="1" height="1" fill="rgb(71,195,103)" fill-opacity="0.95"/><rect x="89" y="303" width="1" height="1" fill="rgb(56,195,121)" fill-opacity="0.95"/><rect x="90" y="303" width="1" height="1" fill="rgb(180,190,40)" fill-opacity="0.95"/><rect x="91" y="303" width="1" height="1" fill="rgb(39,194,142)" fill-opacity="0.95"/><rect x="92" y="303" width="1" height="1" fill="rgb(33,176,198)" fill-opacity="0.95"/><rect x="93" y="303" width="1" height="1" fill="rgb(40,131,245)" fill-opacity="0.92"/><rect x="94" y="303" width="1" height="1" fill="rgb(46,114,250)" fill-opacity="0.84"/><rect x="95" y="303" width="1" height="1" fill="rgb(69,107,253)" fill-opacity="0.65"/><rect x="96" y="303" width="1" height="1" fill="rgb(80,100,255)" fill-opacity="0.50"/><rect x="97" y="303" width="1" height="1" fill="rgb(80,100,255)" fill-opacity="0.67"/><rect x="80" y="304" width="1" height="1" fill="rgb(180,190,40)" fill-opacity="0.95"/><rect x="81" y="304" width="1" height="1" fill="rgb(85,195,86)" fill-opacity="0.95"/><rect x="82" y="304" width="1" height="1" fill="rgb(180,190,40)" fill-opacity="0.95"/><rect x="83" y="304" width="1" height="1" fill="rgb(50,113,250)" fill-opacity="0.81"/><rect x="84" y="304" width="1" height="1" fill="rgb(44,115,249)" fill-opacity="0.86"/><rect x="85" y="304" width="1" height="1" fill="rgb(37,141,242)" fill-opacity="0.95"/><rect x="86" y="304" width="1" height="1" fill="rgb(33,174,205)" fill-opacity="0.95"/><rect x="87" y="304" width="1" height="1" fill="rgb(180,190,40)" fill-opacity="0.95"/><rect x="88" y="304" width="1" height="1" fill="rgb(169,190,43)" fill-opacity="0.95"/><rect x="89" y="304" width="1" height="1" fill="rgb(180,190,40)" fill-opacity="0.95"/><rect x="90" y="304" width="1" height="1" fill="rgb(180,190,40)" fill-opacity="0.95"/><rect x="91" y="304" width="1" height="1" fill="rgb(180,190,40)" fill-opacity="0.95"/><rect x="92" y="304" width="1" height="1" fill="rgb(66,195,108)" fill-opacity="0.95"/><rect x="93" y="304" width="1" height="1" fill="rgb(36,142,241)" fill-opacity="0.95"/><rect x="94" y="304" width="1" height="1" fill="rgb(72,107,253)" fill-opacity="0.62"/><rect x="80" y="305" width="1" height="1" fill="rgb(62,195,114)" fill-opacity="0.95"/><rect x="81" y="305" width="1" height="1" fill="rgb(180,190,40)" fill-opacity="0.95"/><rect x="82" y="305" width="1" height="1" fill="rgb(92,195,79)" fill-opacity="0.95"/><rect x="83" y="305" width="1" height="1" fill="rgb(34,150,239)" fill-opacity="0.95"/><rect x="84" y="305" width="1" height="1" fill="rgb(30,167,227)" fill-opacity="0.95"/><rect x="85" y="305" width="1" height="1" fill="rgb(180,190,40)" fill-opacity="0.95"/><rect x="86" y="305" width="1" height="1" fill="rgb(46,195,132)" fill-opacity="0.95"/><rect x="87" y="305" width="1" height="1" fill="rgb(180,190,40)" fill-opacity="0.95"/><rect x="88" y="305" width="1" height="1" fill="rgb(180,190,40)" fill-opacity="0.95"/><rect x="89" y="305" width="1" height="1" fill="rgb(180,190,40)" fill-opacity="0.95"/><rect x="90" y="305" width="1" height="1" fill="rgb(104,194,68)" fill-opacity="0.95"/><rect x="91" y="305" width="1" height="1" fill="rgb(66,195,108)" fill-opacity="0.95"/><rect x="92" y="305" width="1" height="1" fill="rgb(46,114,250)" fill-opacity="0.84"/><rect x="93" y="305" width="1" height="1" fill="rgb(65,109,252)" fill-opacity="0.69"/><rect x="100" y="305" width="1" height="1" fill="rgb(120,130,255)" fill-opacity="0.33"/><rect x="80" y="306" width="1" height="1" fill="rgb(180,190,40)" fill-opacity="0.95"/><rect x="81" y="306" width="1" height="1" fill="rgb(180,190,40)" fill-opacity="0.95"/><rect x="82" y="306" width="1" height="1" fill="rgb(37,139,242)" fill-opacity="0.95"/><rect x="83" y="306" width="1" height="1" fill="rgb(35,146,240)" fill-opacity="0.95"/><rect x="84" y="306" width="1" height="1" fill="rgb(36,185,169)" fill-opacity="0.95"/><rect x="85" y="306" width="1" height="1" fill="rgb(180,190,40)" fill-opacity="0.95"/><rect x="86" y="306" width="1" height="1" fill="rgb(80,195,93)" fill-opacity="0.95"/><rect x="87" y="306" width="1" height="1" fill="rgb(73,195,100)" fill-opacity="0.95"/><rect x="88" y="306" width="1" height="1" fill="rgb(180,190,40)" fill-opacity="0.95"/><rect x="89" y="306" width="1" height="1" fill="rgb(73,195,100)" fill-opacity="0.95"/><rect x="90" y="306" width="1" height="1" fill="rgb(75,195,98)" fill-opacity="0.95"/><rect x="91" y="306" width="1" height="1" fill="rgb(45,114,250)" fill-opacity="0.85"/><rect x="92" y="306" width="1" height="1" fill="rgb(65,109,252)" fill-opacity="0.69"/><rect x="93" y="306" width="1" height="1" fill="rgb(80,100,255)" fill-opacity="0.62"/><rect x="94" y="306" width="1" height="1" fill="rgb(120,130,255)" fill-opacity="0.19"/><rect x="80" y="307" width="1" height="1" fill="rgb(34,179,189)" fill-opacity="0.95"/><rect x="81" y="307" width="1" height="1" fill="rgb(75,195,98)" fill-opacity="0.95"/><rect x="82" y="307" width="1" height="1" fill="rgb(31,160,236)" fill-opacity="0.95"/><rect x="83" y="307" width="1" height="1" fill="rgb(35,182,178)" fill-opacity="0.95"/><rect x="84" y="307" width="1" height="1" fill="rgb(162,191,46)" fill-opacity="0.95"/><rect x="85" y="307" width="1" height="1" fill="rgb(85,195,87)" fill-opacity="0.95"/><rect x="86" y="307" width="1" height="1" fill="rgb(180,190,40)" fill-opacity="0.95"/><rect x="87" y="307" width="1" height="1" fill="rgb(180,190,40)" fill-opacity="0.95"/><rect x="88" y="307" width="1" height="1" fill="rgb(32,172,211)" fill-opacity="0.95"/><rect x="89" y="307" width="1" height="1" fill="rgb(45,114,250)" fill-opacity="0.85"/><rect x="90" y="307" width="1" height="1" fill="rgb(55,111,251)" fill-opacity="0.77"/><rect x="80" y="308" width="1" height="1" fill="rgb(37,139,242)" fill-opacity="0.95"/><rect x="81" y="308" width="1" height="1" fill="rgb(42,123,247)" fill-opacity="0.89"/><rect x="82" y="308" width="1" height="1" fill="rgb(39,132,244)" fill-opacity="0.93"/><rect x="83" y="308" width="1" height="1" fill="rgb(43,120,248)" fill-opacity="0.88"/><rect x="84" y="308" width="1" height="1" fill="rgb(30,163,235)" fill-opacity="0.95"/><rect x="85" y="308" width="1" height="1" fill="rgb(35,180,184)" fill-opacity="0.95"/><rect x="86" y="308" width="1" height="1" fill="rgb(38,135,243)" fill-opacity="0.94"/><rect x="87" y="308" width="1" height="1" fill="rgb(39,134,244)" fill-opacity="0.93"/><rect x="88" y="308" width="1" height="1" fill="rgb(61,110,252)" fill-opacity="0.72"/><rect x="89" y="308" width="1" height="1" fill="rgb(74,106,254)" fill-opacity="0.61"/><rect x="91" y="308" width="1" height="1" fill="rgb(120,130,255)" fill-opacity="0.32"/></g>
<path d="M122.6,277.5 L216.3,277.5 L216.3,356.7" stroke="#9a9a9a" stroke-width="1" fill="none"/>
<line x1="122.1" y1="356.7" x2="216.8" y2="356.7" stroke="#6a6a6a" stroke-width="1.0" />
<line x1="122.6" y1="277" x2="122.6" y2="356.7" stroke="#bdbdbd" stroke-width="1.0" />
<line x1="122" y1="337.62" x2="123.4" y2="337.62" stroke="#888" stroke-width="0.6" />
<line x1="122" y1="318.53" x2="123.4" y2="318.53" stroke="#888" stroke-width="0.6" />
<line x1="122" y1="299.45" x2="123.4" y2="299.45" stroke="#888" stroke-width="0.6" />
<line x1="122" y1="280.36" x2="123.4" y2="280.36" stroke="#888" stroke-width="0.6" />
<line x1="133.5" y1="356.7" x2="133.5" y2="355.7" stroke="#aaa" stroke-width="0.5" />
<line x1="144.39" y1="356.7" x2="144.39" y2="355.7" stroke="#aaa" stroke-width="0.5" />
<line x1="155.29" y1="356.7" x2="155.29" y2="355.7" stroke="#aaa" stroke-width="0.5" />
<line x1="166.18" y1="356.7" x2="166.18" y2="355.7" stroke="#aaa" stroke-width="0.5" />
<line x1="177.08" y1="356.7" x2="177.08" y2="355.7" stroke="#aaa" stroke-width="0.5" />
<line x1="187.97" y1="356.7" x2="187.97" y2="355.7" stroke="#aaa" stroke-width="0.5" />
<line x1="198.87" y1="356.7" x2="198.87" y2="355.7" stroke="#aaa" stroke-width="0.5" />
<line x1="209.76" y1="356.7" x2="209.76" y2="355.7" stroke="#aaa" stroke-width="0.5" />
<text x="124.75" y="287" font-size="8.26" font-weight="bold" fill="#231f20" textLength="20.34" lengthAdjust="spacingAndGlyphs">Day7</text>
<polyline points="122.7,356.2 123.48,356.2 124.26,356.2 125.04,356.2 125.82,356.2 126.6,356.2 127.38,356.2 128.15,356.2 128.93,356.2 129.71,356.2 130.49,356.2 131.27,356.2 132.05,356.2 132.83,356.2 133.61,356.2 134.39,356.2 135.17,356.2 135.95,356.2 136.72,356.2 137.5,356.2 138.28,356.2 139.06,356.2 139.84,356.2 140.62,356.2 141.4,356.2 142.18,356.2 142.96,356.2 143.74,356.2 144.52,356.2 145.3,356.2 146.07,356.2 146.85,356.2 147.63,356.2 148.41,356.2 149.19,356.2 149.97,356.2 150.75,356.2 151.53,356.2 152.31,356.2 153.09,356.2 153.87,356.2 154.65,356.2 155.43,356.2 156.2,356.2 156.98,356.19 157.76,356.17 158.54,356.15 159.32,356.09 160.1,355.97 160.88,355.77 161.66,355.4 162.44,354.79 163.22,353.79 164,352.25 164.78,349.97 165.55,346.76 166.33,342.43 167.11,336.89 167.89,330.14 168.67,322.38 169.45,313.99 170.23,305.52 171.01,297.68 171.79,291.2 172.57,286.77 173.35,284.85 174.12,285.69 174.9,289.17 175.68,294.91 176.46,302.3 177.24,310.61 178.02,319.11 178.8,327.18 179.58,334.35 180.36,340.39 181.14,345.19 181.92,348.82 182.7,351.45 183.47,353.26 184.25,354.45 185.03,355.19 185.81,355.65 186.59,355.91 187.37,356.05 188.15,356.13 188.93,356.17 189.71,356.18 190.49,356.19 191.27,356.2 192.05,356.2 192.82,356.2 193.6,356.2 194.38,356.2 195.16,356.2 195.94,356.2 196.72,356.2 197.5,356.2 198.28,356.2 199.06,356.2 199.84,356.2 200.62,356.2 201.4,356.2 202.17,356.2 202.95,356.2 203.73,356.2 204.51,356.2 205.29,356.2 206.07,356.2 206.85,356.2 207.63,356.2 208.41,356.2 209.19,356.2 209.97,356.2 210.75,356.2 211.52,356.2 212.3,356.2 213.08,356.2 213.86,356.2 214.64,356.2 215.42,356.2 216.2,356.2" stroke="#1a1a1a" stroke-width="0.9" fill="none" stroke-linejoin="round" />
<line x1="161.3" y1="337.8" x2="190.2" y2="337.8" stroke="#8a8a8a" stroke-width="1.4" />
<line x1="161.3" y1="335.9" x2="161.3" y2="339.7" stroke="#333" stroke-width="1.0" />
<line x1="190.2" y1="335.9" x2="190.2" y2="339.7" stroke="#888" stroke-width="1.0" />
<text x="180.79" y="333.9" font-size="7" fill="#222" textLength="17.54" lengthAdjust="spacingAndGlyphs">100%</text>
<path d="M179.3,277.6 L179.3,310.1 L216.4,310.1" stroke="#c4c4c4" stroke-width="0.7" fill="none"/>
<line x1="179.3" y1="303.03" x2="180.2" y2="303.03" stroke="#ccc" stroke-width="0.5" />
<line x1="179.3" y1="295.97" x2="180.2" y2="295.97" stroke="#ccc" stroke-width="0.5" />
<line x1="179.3" y1="288.9" x2="180.2" y2="288.9" stroke="#ccc" stroke-width="0.5" />
<line x1="179.3" y1="281.84" x2="180.2" y2="281.84" stroke="#ccc" stroke-width="0.5" />
<line x1="185.93" y1="310.1" x2="185.93" y2="309.2" stroke="#ccc" stroke-width="0.5" />
<line x1="192.55" y1="310.1" x2="192.55" y2="309.2" stroke="#ccc" stroke-width="0.5" />
<line x1="199.18" y1="310.1" x2="199.18" y2="309.2" stroke="#ccc" stroke-width="0.5" />
<line x1="205.8" y1="310.1" x2="205.8" y2="309.2" stroke="#ccc" stroke-width="0.5" />
<line x1="212.43" y1="310.1" x2="212.43" y2="309.2" stroke="#ccc" stroke-width="0.5" />
<g shape-rendering="crispEdges"><rect x="185" y="279" width="1" height="1" fill="rgb(80,100,255)" fill-opacity="0.54"/><rect x="186" y="279" width="1" height="1" fill="rgb(69,107,253)" fill-opacity="0.65"/><rect x="187" y="279" width="1" height="1" fill="rgb(58,111,251)" fill-opacity="0.74"/><rect x="188" y="279" width="1" height="1" fill="rgb(73,106,254)" fill-opacity="0.62"/><rect x="185" y="280" width="1" height="1" fill="rgb(75,106,254)" fill-opacity="0.60"/><rect x="186" y="280" width="1" height="1" fill="rgb(43,118,248)" fill-opacity="0.87"/><rect x="187" y="280" width="1" height="1" fill="rgb(39,132,244)" fill-opacity="0.93"/><rect x="188" y="280" width="1" height="1" fill="rgb(57,111,251)" fill-opacity="0.75"/><rect x="189" y="280" width="1" height="1" fill="rgb(80,100,255)" fill-opacity="0.69"/><rect x="185" y="281" width="1" height="1" fill="rgb(66,108,253)" fill-opacity="0.68"/><rect x="186" y="281" width="1" height="1" fill="rgb(40,129,245)" fill-opacity="0.91"/><rect x="187" y="281" width="1" height="1" fill="rgb(45,114,250)" fill-opacity="0.86"/><rect x="188" y="281" width="1" height="1" fill="rgb(70,107,253)" fill-opacity="0.64"/><rect x="182" y="282" width="1" height="1" fill="rgb(120,130,255)" fill-opacity="0.41"/><rect x="183" y="282" width="1" height="1" fill="rgb(120,130,255)" fill-opacity="0.33"/><rect x="185" y="282" width="1" height="1" fill="rgb(60,110,252)" fill-opacity="0.73"/><rect x="186" y="282" width="1" height="1" fill="rgb(35,146,240)" fill-opacity="0.95"/><rect x="187" y="282" width="1" height="1" fill="rgb(35,148,240)" fill-opacity="0.95"/><rect x="188" y="282" width="1" height="1" fill="rgb(60,110,252)" fill-opacity="0.73"/><rect x="189" y="282" width="1" height="1" fill="rgb(80,100,255)" fill-opacity="0.57"/><rect x="192" y="282" width="1" height="1" fill="rgb(120,130,255)" fill-opacity="0.42"/><rect x="184" y="283" width="1" height="1" fill="rgb(80,100,255)" fill-opacity="0.68"/><rect x="185" y="283" width="1" height="1" fill="rgb(49,113,250)" fill-opacity="0.82"/><rect x="186" y="283" width="1" height="1" fill="rgb(48,195,129)" fill-opacity="0.95"/><rect x="187" y="283" width="1" height="1" fill="rgb(36,143,241)" fill-opacity="0.95"/><rect x="188" y="283" width="1" height="1" fill="rgb(73,106,254)" fill-opacity="0.62"/><rect x="189" y="283" width="1" height="1" fill="rgb(120,130,255)" fill-opacity="0.44"/><rect x="182" y="284" width="1" height="1" fill="rgb(120,130,255)" fill-opacity="0.24"/><rect x="184" y="284" width="1" height="1" fill="rgb(75,106,254)" fill-opacity="0.60"/><rect x="185" y="284" width="1" height="1" fill="rgb(33,176,198)" fill-opacity="0.95"/><rect x="186" y="284" width="1" height="1" fill="rgb(144,192,53)" fill-opacity="0.95"/><rect x="187" y="284" width="1" height="1" fill="rgb(32,155,237)" fill-opacity="0.95"/><rect x="188" y="284" width="1" height="1" fill="rgb(67,108,253)" fill-opacity="0.67"/><rect x="190" y="284" width="1" height="1" fill="rgb(120,130,255)" fill-opacity="0.19"/><rect x="183" y="285" width="1" height="1" fill="rgb(80,100,255)" fill-opacity="0.58"/><rect x="184" y="285" width="1" height="1" fill="rgb(50,113,250)" fill-opacity="0.81"/><rect x="185" y="285" width="1" height="1" fill="rgb(59,195,117)" fill-opacity="0.95"/><rect x="186" y="285" width="1" height="1" fill="rgb(45,195,133)" fill-opacity="0.95"/><rect x="187" y="285" width="1" height="1" fill="rgb(34,151,239)" fill-opacity="0.95"/><rect x="182" y="286" width="1" height="1" fill="rgb(120,130,255)" fill-opacity="0.42"/><rect x="183" y="286" width="1" height="1" fill="rgb(80,100,255)" fill-opacity="0.61"/><rect x="184" y="286" width="1" height="1" fill="rgb(44,115,249)" fill-opacity="0.86"/><rect x="185" y="286" width="1" height="1" fill="rgb(180,190,40)" fill-opacity="0.95"/><rect x="186" y="286" width="1" height="1" fill="rgb(180,190,40)" fill-opacity="0.95"/><rect x="187" y="286" width="1" height="1" fill="rgb(43,120,248)" fill-opacity="0.88"/><rect x="188" y="286" width="1" height="1" fill="rgb(80,100,255)" fill-opacity="0.53"/><rect x="184" y="287" width="1" height="1" fill="rgb(34,149,239)" fill-opacity="0.95"/><rect x="185" y="287" width="1" height="1" fill="rgb(180,190,40)" fill-opacity="0.95"/><rect x="186" y="287" width="1" height="1" fill="rgb(180,190,40)" fill-opacity="0.95"/><rect x="187" y="287" width="1" height="1" fill="rgb(41,125,246)" fill-opacity="0.90"/><rect x="188" y="287" width="1" height="1" fill="rgb(80,100,255)" fill-opacity="0.43"/><rect x="183" y="288" width="1" height="1" fill="rgb(59,110,252)" fill-opacity="0.74"/><rect x="184" y="288" width="1" height="1" fill="rgb(120,193,62)" fill-opacity="0.95"/><rect x="185" y="288" width="1" height="1" fill="rgb(91,195,79)" fill-opacity="0.95"/><rect x="186" y="288" width="1" height="1" fill="rgb(102,194,69)" fill-opacity="0.95"/><rect x="187" y="288" width="1" height="1" fill="rgb(54,112,251)" fill-opacity="0.78"/><rect x="188" y="288" width="1" height="1" fill="rgb(80,100,255)" fill-opacity="0.65"/><rect x="193" y="288" width="1" height="1" fill="rgb(120,130,255)" fill-opacity="0.40"/><rect x="194" y="288" width="1" height="1" fill="rgb(120,130,255)" fill-opacity="0.43"/><rect x="202" y="288" width="1" height="1" fill="rgb(120,130,255)" fill-opacity="0.32"/><rect x="181" y="289" width="1" height="1" fill="rgb(120,130,255)" fill-opacity="0.30"/><rect x="182" y="289" width="1" height="1" fill="rgb(80,100,255)" fill-opacity="0.62"/><rect x="183" y="289" width="1" height="1" fill="rgb(58,111,251)" fill-opacity="0.74"/><rect x="184" y="289" width="1" height="1" fill="rgb(115,194,64)" fill-opacity="0.95"/><rect x="185" y="289" width="1" height="1" fill="rgb(95,195,75)" fill-opacity="0.95"/><rect x="186" y="289" width="1" height="1" fill="rgb(98,195,71)" fill-opacity="0.95"/><rect x="187" y="289" width="1" height="1" fill="rgb(70,107,253)" fill-opacity="0.64"/><rect x="188" y="289" width="1" height="1" fill="rgb(80,100,255)" fill-opacity="0.68"/><rect x="181" y="290" width="1" height="1" fill="rgb(120,130,255)" fill-opacity="0.39"/><rect x="182" y="290" width="1" height="1" fill="rgb(80,100,255)" fill-opacity="0.35"/><rect x="183" y="290" width="1" height="1" fill="rgb(35,148,240)" fill-opacity="0.95"/><rect x="184" y="290" width="1" height="1" fill="rgb(153,191,49)" fill-opacity="0.95"/><rect x="185" y="290" width="1" height="1" fill="rgb(180,190,40)" fill-opacity="0.95"/><rect x="186" y="290" width="1" height="1" fill="rgb(38,189,156)" fill-opacity="0.95"/><rect x="187" y="290" width="1" height="1" fill="rgb(65,109,252)" fill-opacity="0.69"/><rect x="189" y="290" width="1" height="1" fill="rgb(120,130,255)" fill-opacity="0.28"/><rect x="193" y="290" width="1" height="1" fill="rgb(120,130,255)" fill-opacity="0.28"/><rect x="194" y="290" width="1" height="1" fill="rgb(120,130,255)" fill-opacity="0.26"/><rect x="182" y="291" width="1" height="1" fill="rgb(80,100,255)" fill-opacity="0.44"/><rect x="183" y="291" width="1" height="1" fill="rgb(31,169,220)" fill-opacity="0.95"/><rect x="184" y="291" width="1" height="1" fill="rgb(180,190,40)" fill-opacity="0.95"/><rect x="185" y="291" width="1" height="1" fill="rgb(180,190,40)" fill-opacity="0.95"/><rect x="186" y="291" width="1" height="1" fill="rgb(36,183,175)" fill-opacity="0.95"/><rect x="195" y="291" width="1" height="1" fill="rgb(120,130,255)" fill-opacity="0.44"/><rect x="181" y="292" width="1" height="1" fill="rgb(120,130,255)" fill-opacity="0.25"/><rect x="182" y="292" width="1" height="1" fill="rgb(73,106,254)" fill-opacity="0.62"/><rect x="183" y="292" width="1" height="1" fill="rgb(35,182,180)" fill-opacity="0.95"/><rect x="184" y="292" width="1" height="1" fill="rgb(54,195,123)" fill-opacity="0.95"/><rect x="185" y="292" width="1" height="1" fill="rgb(180,190,40)" fill-opacity="0.95"/><rect x="186" y="292" width="1" height="1" fill="rgb(39,133,244)" fill-opacity="0.93"/><rect x="182" y="293" width="1" height="1" fill="rgb(60,110,252)" fill-opacity="0.73"/><rect x="183" y="293" width="1" height="1" fill="rgb(49,195,128)" fill-opacity="0.95"/><rect x="184" y="293" width="1" height="1" fill="rgb(180,190,40)" fill-opacity="0.95"/><rect x="185" y="293" width="1" height="1" fill="rgb(180,190,40)" fill-opacity="0.95"/><rect x="186" y="293" width="1" height="1" fill="rgb(61,110,252)" fill-opacity="0.72"/><rect x="187" y="293" width="1" height="1" fill="rgb(80,100,255)" fill-opacity="0.36"/><rect x="181" y="294" width="1" height="1" fill="rgb(80,100,255)" fill-opacity="0.61"/><rect x="182" y="294" width="1" height="1" fill="rgb(55,112,251)" fill-opacity="0.77"/><rect x="183" y="294" width="1" height="1" fill="rgb(129,193,59)" fill-opacity="0.95"/><rect x="184" y="294" width="1" height="1" fill="rgb(119,193,62)" fill-opacity="0.95"/><rect x="185" y="294" width="1" height="1" fill="rgb(61,195,115)" fill-opacity="0.95"/><rect x="186" y="294" width="1" height="1" fill="rgb(66,108,253)" fill-opacity="0.68"/><rect x="187" y="294" width="1" height="1" fill="rgb(80,100,255)" fill-opacity="0.52"/><rect x="191" y="294" width="1" height="1" fill="rgb(120,130,255)" fill-opacity="0.39"/><rect x="195" y="294" width="1" height="1" fill="rgb(120,130,255)" fill-opacity="0.36"/><rect x="197" y="294" width="1" height="1" fill="rgb(120,130,255)" fill-opacity="0.29"/><rect x="199" y="294" width="1" height="1" fill="rgb(120,130,255)" fill-opacity="0.22"/><rect x="181" y="295" width="1" height="1" fill="rgb(80,100,255)" fill-opacity="0.65"/><rect x="182" y="295" width="1" height="1" fill="rgb(43,121,248)" fill-opacity="0.88"/><rect x="183" y="295" width="1" height="1" fill="rgb(97,195,73)" fill-opacity="0.95"/><rect x="184" y="295" width="1" height="1" fill="rgb(119,193,62)" fill-opacity="0.95"/><rect x="185" y="295" width="1" height="1" fill="rgb(30,161,235)" fill-opacity="0.95"/><rect x="186" y="295" width="1" height="1" fill="rgb(80,100,255)" fill-opacity="0.53"/><rect x="181" y="296" width="1" height="1" fill="rgb(80,100,255)" fill-opacity="0.65"/><rect x="182" y="296" width="1" height="1" fill="rgb(42,124,247)" fill-opacity="0.89"/><rect x="183" y="296" width="1" height="1" fill="rgb(180,190,40)" fill-opacity="0.95"/><rect x="184" y="296" width="1" height="1" fill="rgb(99,195,70)" fill-opacity="0.95"/><rect x="185" y="296" width="1" height="1" fill="rgb(37,140,242)" fill-opacity="0.95"/><rect x="190" y="296" width="1" height="1" fill="rgb(120,130,255)" fill-opacity="0.22"/><rect x="182" y="297" width="1" height="1" fill="rgb(32,171,215)" fill-opacity="0.95"/><rect x="183" y="297" width="1" height="1" fill="rgb(180,190,40)" fill-opacity="0.95"/><rect x="184" y="297" width="1" height="1" fill="rgb(53,195,124)" fill-opacity="0.95"/><rect x="185" y="297" width="1" height="1" fill="rgb(56,111,251)" fill-opacity="0.76"/><rect x="181" y="298" width="1" height="1" fill="rgb(67,108,253)" fill-opacity="0.67"/><rect x="182" y="298" width="1" height="1" fill="rgb(32,172,211)" fill-opacity="0.95"/><rect x="183" y="298" width="1" height="1" fill="rgb(122,193,61)" fill-opacity="0.95"/><rect x="184" y="298" width="1" height="1" fill="rgb(33,176,198)" fill-opacity="0.95"/><rect x="185" y="298" width="1" height="1" fill="rgb(74,106,254)" fill-opacity="0.61"/><rect x="181" y="299" width="1" height="1" fill="rgb(65,109,252)" fill-opacity="0.69"/><rect x="182" y="299" width="1" height="1" fill="rgb(104,194,68)" fill-opacity="0.95"/><rect x="183" y="299" width="1" height="1" fill="rgb(46,195,132)" fill-opacity="0.95"/><rect x="184" y="299" width="1" height="1" fill="rgb(37,140,242)" fill-opacity="0.95"/><rect x="185" y="299" width="1" height="1" fill="rgb(80,100,255)" fill-opacity="0.69"/><rect x="203" y="299" width="1" height="1" fill="rgb(120,130,255)" fill-opacity="0.21"/><rect x="181" y="300" width="1" height="1" fill="rgb(55,111,251)" fill-opacity="0.77"/><rect x="182" y="300" width="1" height="1" fill="rgb(35,182,180)" fill-opacity="0.95"/><rect x="183" y="300" width="1" height="1" fill="rgb(127,193,59)" fill-opacity="0.95"/><rect x="184" y="300" width="1" height="1" fill="rgb(48,114,250)" fill-opacity="0.83"/><rect x="185" y="300" width="1" height="1" fill="rgb(80,100,255)" fill-opacity="0.37"/><rect x="181" y="301" width="1" height="1" fill="rgb(52,112,251)" fill-opacity="0.79"/><rect x="182" y="301" width="1" height="1" fill="rgb(35,182,179)" fill-opacity="0.95"/><rect x="183" y="301" width="1" height="1" fill="rgb(35,180,186)" fill-opacity="0.95"/><rect x="184" y="301" width="1" height="1" fill="rgb(58,111,251)" fill-opacity="0.74"/><rect x="199" y="301" width="1" height="1" fill="rgb(120,130,255)" fill-opacity="0.23"/><rect x="181" y="302" width="1" height="1" fill="rgb(52,112,251)" fill-opacity="0.79"/><rect x="182" y="302" width="1" height="1" fill="rgb(42,195,137)" fill-opacity="0.95"/><rect x="183" y="302" width="1" height="1" fill="rgb(40,131,245)" fill-opacity="0.92"/><rect x="184" y="302" width="1" height="1" fill="rgb(74,106,254)" fill-opacity="0.61"/><rect x="185" y="302" width="1" height="1" fill="rgb(120,130,255)" fill-opacity="0.39"/><rect x="181" y="303" width="1" height="1" fill="rgb(59,110,252)" fill-opacity="0.73"/><rect x="182" y="303" width="1" height="1" fill="rgb(35,147,240)" fill-opacity="0.95"/><rect x="183" y="303" width="1" height="1" fill="rgb(44,116,249)" fill-opacity="0.86"/><rect x="184" y="303" width="1" height="1" fill="rgb(80,100,255)" fill-opacity="0.41"/><rect x="181" y="304" width="1" height="1" fill="rgb(52,112,251)" fill-opacity="0.80"/><rect x="182" y="304" width="1" height="1" fill="rgb(47,114,250)" fill-opacity="0.83"/><rect x="183" y="304" width="1" height="1" fill="rgb(68,108,253)" fill-opacity="0.66"/><rect x="185" y="304" width="1" height="1" fill="rgb(120,130,255)" fill-opacity="0.22"/><rect x="181" y="305" width="1" height="1" fill="rgb(66,108,253)" fill-opacity="0.68"/><rect x="182" y="305" width="1" height="1" fill="rgb(61,110,252)" fill-opacity="0.72"/><rect x="183" y="305" width="1" height="1" fill="rgb(80,100,255)" fill-opacity="0.37"/><rect x="184" y="305" width="1" height="1" fill="rgb(120,130,255)" fill-opacity="0.38"/><rect x="181" y="306" width="1" height="1" fill="rgb(55,111,251)" fill-opacity="0.77"/><rect x="182" y="306" width="1" height="1" fill="rgb(74,106,254)" fill-opacity="0.61"/><rect x="183" y="306" width="1" height="1" fill="rgb(80,100,255)" fill-opacity="0.66"/><rect x="184" y="306" width="1" height="1" fill="rgb(120,130,255)" fill-opacity="0.25"/><rect x="184" y="307" width="1" height="1" fill="rgb(120,130,255)" fill-opacity="0.36"/><rect x="193" y="307" width="1" height="1" fill="rgb(120,130,255)" fill-opacity="0.35"/><rect x="182" y="308" width="1" height="1" fill="rgb(80,100,255)" fill-opacity="0.66"/><rect x="184" y="309" width="1" height="1" fill="rgb(120,130,255)" fill-opacity="0.39"/></g>
<line x1="11.8" y1="353.2" x2="11.8" y2="241.5" stroke="#222" stroke-width="0.9" />
<path d="M9.9,242 L11.8,237.6 L13.7,242 Z" fill="#222"/>
<text x="14" y="232.02" font-size="8.57" fill="#222" textLength="22.19" lengthAdjust="spacingAndGlyphs" transform="rotate(-90 14 232.02)">Count</text>
<line x1="20.2" y1="364.4" x2="142.1" y2="364.4" stroke="#222" stroke-width="0.9" />
<path d="M141.6,362.4 L146.4,364.4 L141.6,366.4 Z" fill="#222"/>
<text x="149.43" y="367.5" font-size="8.14" fill="#222" textLength="50.62" lengthAdjust="spacingAndGlyphs">Death marker</text>
<line x1="272.7" y1="198.5" x2="272.7" y2="324.1" stroke="#707070" stroke-width="1.2" />
<line x1="270.3" y1="323.6" x2="461.4" y2="323.6" stroke="#8a8a8a" stroke-width="1.2" />
<line x1="270.3" y1="323.6" x2="272.7" y2="323.6" stroke="#333" stroke-width="0.9" />
<line x1="270.3" y1="292.32" x2="272.7" y2="292.32" stroke="#333" stroke-width="0.9" />
<line x1="270.3" y1="261.05" x2="272.7" y2="261.05" stroke="#333" stroke-width="0.9" />
<line x1="270.3" y1="229.77" x2="272.7" y2="229.77" stroke="#333" stroke-width="0.9" />
<line x1="270.3" y1="198.5" x2="272.7" y2="198.5" stroke="#333" stroke-width="0.9" />
<text x="256.96" y="201.9" font-size="7.9" fill="#222" textLength="11.34" lengthAdjust="spacingAndGlyphs">400</text>
<text x="256.96" y="233.2" font-size="7.9" fill="#222" textLength="11.34" lengthAdjust="spacingAndGlyphs">300</text>
<text x="256.96" y="264.4" font-size="7.9" fill="#222" textLength="11.34" lengthAdjust="spacingAndGlyphs">200</text>
<text x="256.96" y="295.7" font-size="7.9" fill="#222" textLength="11.34" lengthAdjust="spacingAndGlyphs">100</text>
<text x="261.4" y="327.1" font-size="7.9" fill="#222" textLength="3.78" lengthAdjust="spacingAndGlyphs">0</text>
<rect x="274.4" y="215.7" width="7.6" height="107.9" stroke="#f9c69a" stroke-width="0.9" fill="none" />
<rect x="285.82" y="217.26" width="7.6" height="106.34" stroke="#f9c69a" stroke-width="0.9" fill="none" />
<rect x="297.24" y="240.72" width="7.6" height="82.88" stroke="#f9c69a" stroke-width="0.9" fill="none" />
<rect x="308.66" y="295.45" width="7.6" height="28.15" stroke="#f9c69a" stroke-width="0.9" fill="none" />
<rect x="320.08" y="307.65" width="7.6" height="15.95" stroke="#f9c69a" stroke-width="0.9" fill="none" />
<rect x="331.5" y="317.35" width="7.6" height="6.25" stroke="#f9c69a" stroke-width="0.9" fill="none" />
<rect x="342.92" y="322.19" width="7.6" height="1.41" stroke="#f9c69a" stroke-width="0.9" fill="none" />
<rect x="354.34" y="322.51" width="7.6" height="1.09" stroke="#f9c69a" stroke-width="0.9" fill="none" />
<line x1="278.2" y1="208.6" x2="278.2" y2="224.15" stroke="#f39237" stroke-width="1.0" />
<line x1="276.5" y1="208.6" x2="279.9" y2="208.6" stroke="#f39237" stroke-width="0.9" />
<line x1="276.5" y1="224.15" x2="279.9" y2="224.15" stroke="#f39237" stroke-width="0.9" />
<circle cx="276.4" cy="211.64" r="1.85" stroke="#f39237" stroke-width="1.0" fill="none" />
<circle cx="280" cy="211.64" r="1.85" stroke="#f39237" stroke-width="1.0" fill="none" />
<circle cx="278" cy="224.15" r="1.85" stroke="#f39237" stroke-width="1.0" fill="none" />
<line x1="289.62" y1="210.38" x2="289.62" y2="222.89" stroke="#f39237" stroke-width="1.0" />
<line x1="287.92" y1="210.38" x2="291.32" y2="210.38" stroke="#f39237" stroke-width="0.9" />
<line x1="287.92" y1="222.89" x2="291.32" y2="222.89" stroke="#f39237" stroke-width="0.9" />
<circle cx="289.12" cy="211.95" r="1.85" stroke="#f39237" stroke-width="1.0" fill="none" />
<circle cx="289.12" cy="216.64" r="1.85" stroke="#f39237" stroke-width="1.0" fill="none" />
<circle cx="289.12" cy="222.89" r="1.85" stroke="#f39237" stroke-width="1.0" fill="none" />
<line x1="301.04" y1="237.59" x2="301.04" y2="242.91" stroke="#f39237" stroke-width="1.0" />
<line x1="299.34" y1="237.59" x2="302.74" y2="237.59" stroke="#f39237" stroke-width="0.9" />
<line x1="299.34" y1="242.91" x2="302.74" y2="242.91" stroke="#f39237" stroke-width="0.9" />
<circle cx="301.34" cy="238.22" r="1.85" stroke="#f39237" stroke-width="1.0" fill="none" />
<circle cx="299.24" cy="241.88" r="1.85" stroke="#f39237" stroke-width="1.0" fill="none" />
<circle cx="303.04" cy="241.19" r="1.85" stroke="#f39237" stroke-width="1.0" fill="none" />
<line x1="312.46" y1="291.39" x2="312.46" y2="299.71" stroke="#f39237" stroke-width="1.0" />
<line x1="310.76" y1="291.39" x2="314.16" y2="291.39" stroke="#f39237" stroke-width="0.9" />
<line x1="310.76" y1="299.71" x2="314.16" y2="299.71" stroke="#f39237" stroke-width="0.9" />
<circle cx="310.56" cy="292.2" r="1.85" stroke="#f39237" stroke-width="1.0" fill="none" />
<circle cx="314.76" cy="294.01" r="1.85" stroke="#f39237" stroke-width="1.0" fill="none" />
<circle cx="312.46" cy="299.71" r="1.85" stroke="#f39237" stroke-width="1.0" fill="none" />
<line x1="323.88" y1="304.84" x2="323.88" y2="308.59" stroke="#f39237" stroke-width="1.0" />
<line x1="322.18" y1="304.84" x2="325.58" y2="304.84" stroke="#f39237" stroke-width="0.9" />
<line x1="322.18" y1="308.59" x2="325.58" y2="308.59" stroke="#f39237" stroke-width="0.9" />
<circle cx="322.18" cy="308.28" r="1.85" stroke="#f39237" stroke-width="1.0" fill="none" />
<circle cx="323.98" cy="305.15" r="1.85" stroke="#f39237" stroke-width="1.0" fill="none" />
<circle cx="325.68" cy="306.21" r="1.85" stroke="#f39237" stroke-width="1.0" fill="none" />
<circle cx="333.9" cy="318.28" r="1.85" stroke="#f39237" stroke-width="1.0" fill="none" />
<circle cx="335.4" cy="316.5" r="1.85" stroke="#f39237" stroke-width="1.0" fill="none" />
<circle cx="337.6" cy="318.28" r="1.85" stroke="#f39237" stroke-width="1.0" fill="none" />
<circle cx="344.52" cy="322.51" r="1.85" stroke="#f39237" stroke-width="1.0" fill="none" />
<circle cx="346.52" cy="321.5" r="1.85" stroke="#f39237" stroke-width="1.0" fill="none" />
<circle cx="348.52" cy="322.51" r="1.85" stroke="#f39237" stroke-width="1.0" fill="none" />
<circle cx="355.74" cy="322.51" r="1.85" stroke="#f39237" stroke-width="1.0" fill="none" />
<circle cx="358.04" cy="322.19" r="1.85" stroke="#f39237" stroke-width="1.0" fill="none" />
<circle cx="360.34" cy="322.51" r="1.85" stroke="#f39237" stroke-width="1.0" fill="none" />
<circle cx="375.6" cy="322.3" r="1.85" stroke="#5ca3f0" stroke-width="0.95" fill="none" />
<circle cx="377.4" cy="322.3" r="1.85" stroke="#5ca3f0" stroke-width="0.95" fill="none" />
<circle cx="379.2" cy="322.3" r="1.85" stroke="#5ca3f0" stroke-width="0.95" fill="none" />
<circle cx="387.02" cy="322.3" r="1.85" stroke="#5ca3f0" stroke-width="0.95" fill="none" />
<circle cx="388.82" cy="322.3" r="1.85" stroke="#5ca3f0" stroke-width="0.95" fill="none" />
<circle cx="390.62" cy="322.3" r="1.85" stroke="#5ca3f0" stroke-width="0.95" fill="none" />
<circle cx="398.44" cy="322.3" r="1.85" stroke="#5ca3f0" stroke-width="0.95" fill="none" />
<circle cx="400.24" cy="322.3" r="1.85" stroke="#5ca3f0" stroke-width="0.95" fill="none" />
<circle cx="402.04" cy="322.3" r="1.85" stroke="#5ca3f0" stroke-width="0.95" fill="none" />
<circle cx="409.86" cy="322.3" r="1.85" stroke="#5ca3f0" stroke-width="0.95" fill="none" />
<circle cx="411.66" cy="322.3" r="1.85" stroke="#5ca3f0" stroke-width="0.95" fill="none" />
<circle cx="413.46" cy="322.3" r="1.85" stroke="#5ca3f0" stroke-width="0.95" fill="none" />
<circle cx="421.28" cy="322.3" r="1.85" stroke="#5ca3f0" stroke-width="0.95" fill="none" />
<circle cx="423.08" cy="322.3" r="1.85" stroke="#5ca3f0" stroke-width="0.95" fill="none" />
<circle cx="424.88" cy="322.3" r="1.85" stroke="#5ca3f0" stroke-width="0.95" fill="none" />
<circle cx="432.7" cy="322.3" r="1.85" stroke="#5ca3f0" stroke-width="0.95" fill="none" />
<circle cx="434.5" cy="322.3" r="1.85" stroke="#5ca3f0" stroke-width="0.95" fill="none" />
<circle cx="436.3" cy="322.3" r="1.85" stroke="#5ca3f0" stroke-width="0.95" fill="none" />
<circle cx="444.12" cy="322.3" r="1.85" stroke="#5ca3f0" stroke-width="0.95" fill="none" />
<circle cx="445.92" cy="322.3" r="1.85" stroke="#5ca3f0" stroke-width="0.95" fill="none" />
<circle cx="447.72" cy="322.3" r="1.85" stroke="#5ca3f0" stroke-width="0.95" fill="none" />
<circle cx="455.54" cy="322.3" r="1.85" stroke="#5ca3f0" stroke-width="0.95" fill="none" />
<circle cx="457.34" cy="322.3" r="1.85" stroke="#5ca3f0" stroke-width="0.95" fill="none" />
<circle cx="459.14" cy="322.3" r="1.85" stroke="#5ca3f0" stroke-width="0.95" fill="none" />
<line x1="278.2" y1="323.6" x2="278.2" y2="326.2" stroke="#333" stroke-width="0.9" />
<text x="282.7" y="334.26" font-size="7.2" text-anchor="end" fill="#222" transform="rotate(-45 282.7 334.26)">0</text>
<line x1="289.62" y1="323.6" x2="289.62" y2="326.2" stroke="#333" stroke-width="0.9" />
<text x="294.12" y="334.26" font-size="7.2" text-anchor="end" fill="#222" transform="rotate(-45 294.12 334.26)">0.625</text>
<line x1="301.04" y1="323.6" x2="301.04" y2="326.2" stroke="#333" stroke-width="0.9" />
<text x="305.54" y="334.26" font-size="7.2" text-anchor="end" fill="#222" transform="rotate(-45 305.54 334.26)">1.25</text>
<line x1="312.46" y1="323.6" x2="312.46" y2="326.2" stroke="#333" stroke-width="0.9" />
<text x="316.96" y="334.26" font-size="7.2" text-anchor="end" fill="#222" transform="rotate(-45 316.96 334.26)">2.5</text>
<line x1="323.88" y1="323.6" x2="323.88" y2="326.2" stroke="#333" stroke-width="0.9" />
<text x="328.38" y="334.21" font-size="7.2" text-anchor="end" fill="#222" transform="rotate(-45 328.38 334.21)">5</text>
<line x1="335.3" y1="323.6" x2="335.3" y2="326.2" stroke="#333" stroke-width="0.9" />
<text x="339.8" y="334.26" font-size="7.2" text-anchor="end" fill="#222" transform="rotate(-45 339.8 334.26)">10</text>
<line x1="346.72" y1="323.6" x2="346.72" y2="326.2" stroke="#333" stroke-width="0.9" />
<text x="351.22" y="334.26" font-size="7.2" text-anchor="end" fill="#222" transform="rotate(-45 351.22 334.26)">20</text>
<line x1="358.14" y1="323.6" x2="358.14" y2="326.2" stroke="#333" stroke-width="0.9" />
<text x="362.64" y="334.26" font-size="7.2" text-anchor="end" fill="#222" transform="rotate(-45 362.64 334.26)">40</text>
<line x1="377.4" y1="323.6" x2="377.4" y2="326.2" stroke="#333" stroke-width="0.9" />
<text x="381.9" y="334.26" font-size="7.2" text-anchor="end" fill="#222" transform="rotate(-45 381.9 334.26)">0</text>
<line x1="388.82" y1="323.6" x2="388.82" y2="326.2" stroke="#333" stroke-width="0.9" />
<text x="393.32" y="334.26" font-size="7.2" text-anchor="end" fill="#222" transform="rotate(-45 393.32 334.26)">0.625</text>
<line x1="400.24" y1="323.6" x2="400.24" y2="326.2" stroke="#333" stroke-width="0.9" />
<text x="404.74" y="334.26" font-size="7.2" text-anchor="end" fill="#222" transform="rotate(-45 404.74 334.26)">1.25</text>
<line x1="411.66" y1="323.6" x2="411.66" y2="326.2" stroke="#333" stroke-width="0.9" />
<text x="416.16" y="334.26" font-size="7.2" text-anchor="end" fill="#222" transform="rotate(-45 416.16 334.26)">2.5</text>
<line x1="423.08" y1="323.6" x2="423.08" y2="326.2" stroke="#333" stroke-width="0.9" />
<text x="427.58" y="334.21" font-size="7.2" text-anchor="end" fill="#222" transform="rotate(-45 427.58 334.21)">5</text>
<line x1="434.5" y1="323.6" x2="434.5" y2="326.2" stroke="#333" stroke-width="0.9" />
<text x="439" y="334.26" font-size="7.2" text-anchor="end" fill="#222" transform="rotate(-45 439 334.26)">10</text>
<line x1="445.92" y1="323.6" x2="445.92" y2="326.2" stroke="#333" stroke-width="0.9" />
<text x="450.42" y="334.26" font-size="7.2" text-anchor="end" fill="#222" transform="rotate(-45 450.42 334.26)">20</text>
<line x1="457.34" y1="323.6" x2="457.34" y2="326.2" stroke="#333" stroke-width="0.9" />
<text x="461.84" y="334.26" font-size="7.2" text-anchor="end" fill="#222" transform="rotate(-45 461.84 334.26)">40</text>
<text x="331.24" y="352.7" font-size="9.1" fill="#222" textLength="61.49" lengthAdjust="spacingAndGlyphs">Ilomastat (µM)</text>
<text x="250.9" y="286.18" font-size="9.1" fill="#222" textLength="58.28" lengthAdjust="spacingAndGlyphs" transform="rotate(-90 250.9 286.18)">sPD-1 (ng/ml)</text>
<path d="M275.9,194.6 L275.9,188.4 L328.5,188.4 L328.5,227.9" stroke="#555" stroke-width="1.1" fill="none"/>
<line x1="298.1" y1="232.2" x2="359.4" y2="232.2" stroke="#555" stroke-width="1.1" />
<text x="287.74" y="186.9" font-size="6.43" fill="#222" textLength="29.91" lengthAdjust="spacingAndGlyphs">p&lt;0.0001</text>
<line x1="275.3" y1="201.8" x2="294" y2="201.8" stroke="#999" stroke-width="1.6" />
<text x="279.25" y="199.6" font-size="10.93" fill="#222" textLength="10.51" lengthAdjust="spacingAndGlyphs">ns</text>
<circle cx="365" cy="208.6" r="1.9" stroke="#f39237" stroke-width="0.95" fill="none" />
<text x="379.04" y="211" font-size="8" fill="#222" textLength="42.7" lengthAdjust="spacingAndGlyphs">ECD sPD-1</text>
<circle cx="365" cy="219.7" r="1.9" stroke="#5ca3f0" stroke-width="0.95" fill="none" />
<text x="379.02" y="222" font-size="8.12" fill="#222" textLength="35.82" lengthAdjust="spacingAndGlyphs">FL sPD-1</text>
<line x1="526.4" y1="190.5" x2="526.4" y2="312.9" stroke="#707070" stroke-width="1.2" />
<line x1="523.9" y1="312.4" x2="648.4" y2="312.4" stroke="#555" stroke-width="1.1" />
<line x1="523.9" y1="312.4" x2="526.4" y2="312.4" stroke="#333" stroke-width="0.9" />
<line x1="523.9" y1="281.92" x2="526.4" y2="281.92" stroke="#333" stroke-width="0.9" />
<line x1="523.9" y1="251.45" x2="526.4" y2="251.45" stroke="#333" stroke-width="0.9" />
<line x1="523.9" y1="220.97" x2="526.4" y2="220.97" stroke="#333" stroke-width="0.9" />
<line x1="523.9" y1="190.5" x2="526.4" y2="190.5" stroke="#333" stroke-width="0.9" />
<text x="510.66" y="192.9" font-size="7.4" fill="#222" textLength="11.85" lengthAdjust="spacingAndGlyphs">800</text>
<text x="510.66" y="223.4" font-size="7.4" fill="#222" textLength="11.85" lengthAdjust="spacingAndGlyphs">600</text>
<text x="510.66" y="253.9" font-size="7.4" fill="#222" textLength="11.85" lengthAdjust="spacingAndGlyphs">400</text>
<text x="510.66" y="284.4" font-size="7.4" fill="#222" textLength="11.85" lengthAdjust="spacingAndGlyphs">200</text>
<text x="517.34" y="314.6" font-size="7.4" fill="#222" textLength="3.95" lengthAdjust="spacingAndGlyphs">0</text>
<rect x="528.3" y="272.5" width="29.2" height="39.9" stroke="#f9ab7c" stroke-width="0.9" fill="none" />
<line x1="542.6" y1="265.4" x2="542.6" y2="278.5" stroke="#f9650f" stroke-width="1.1" />
<line x1="535.1" y1="265.4" x2="550" y2="265.4" stroke="#f9650f" stroke-width="1.1" />
<line x1="535.1" y1="278.5" x2="550" y2="278.5" stroke="#f9650f" stroke-width="1.1" />
<circle cx="542.7" cy="217.9" r="2.15" stroke="none" stroke-width="0" fill="#f9650f" />
<circle cx="542.7" cy="222.7" r="2.15" stroke="none" stroke-width="0" fill="#f9650f" />
<circle cx="542.7" cy="226.3" r="2.15" stroke="none" stroke-width="0" fill="#f9650f" />
<circle cx="542.7" cy="237.5" r="2.15" stroke="none" stroke-width="0" fill="#f9650f" />
<circle cx="535.3" cy="243.5" r="2.15" stroke="none" stroke-width="0" fill="#f9650f" />
<circle cx="542.7" cy="243.5" r="2.15" stroke="none" stroke-width="0" fill="#f9650f" />
<circle cx="550" cy="243.5" r="2.15" stroke="none" stroke-width="0" fill="#f9650f" />
<circle cx="542.7" cy="260" r="2.15" stroke="none" stroke-width="0" fill="#f9650f" />
<circle cx="542.7" cy="267.1" r="2.15" stroke="none" stroke-width="0" fill="#f9650f" />
<circle cx="542.7" cy="273.7" r="2.15" stroke="none" stroke-width="0" fill="#f9650f" />
<circle cx="535.3" cy="280.2" r="2.15" stroke="none" stroke-width="0" fill="#f9650f" />
<circle cx="542.7" cy="280.2" r="2.15" stroke="none" stroke-width="0" fill="#f9650f" />
<circle cx="550" cy="280.2" r="2.15" stroke="none" stroke-width="0" fill="#f9650f" />
<circle cx="542.7" cy="283.9" r="2.15" stroke="none" stroke-width="0" fill="#f9650f" />
<circle cx="542.7" cy="288.7" r="2.15" stroke="none" stroke-width="0" fill="#f9650f" />
<circle cx="542.7" cy="295.5" r="2.15" stroke="none" stroke-width="0" fill="#f9650f" />
<circle cx="535.3" cy="302.2" r="2.15" stroke="none" stroke-width="0" fill="#f9650f" />
<circle cx="550" cy="300.8" r="2.15" stroke="none" stroke-width="0" fill="#f9650f" />
<circle cx="542.7" cy="306" r="2.15" stroke="none" stroke-width="0" fill="#f9650f" />
<circle cx="550" cy="305.4" r="2.15" stroke="none" stroke-width="0" fill="#f9650f" />
<circle cx="535.3" cy="309.8" r="2.15" stroke="none" stroke-width="0" fill="#f9650f" />
<circle cx="550" cy="309.5" r="2.15" stroke="none" stroke-width="0" fill="#f9650f" />
<circle cx="574" cy="311.52" r="1.7" stroke="none" stroke-width="0" fill="#5aa3f5" />
<circle cx="576.35" cy="310.1" r="1.7" stroke="none" stroke-width="0" fill="#5aa3f5" />
<circle cx="578.7" cy="308.7" r="1.7" stroke="none" stroke-width="0" fill="#5aa3f5" />
<circle cx="581.05" cy="310.1" r="1.7" stroke="none" stroke-width="0" fill="#5aa3f5" />
<circle cx="583.4" cy="311.48" r="1.7" stroke="none" stroke-width="0" fill="#5aa3f5" />
<circle cx="585.75" cy="311.33" r="1.7" stroke="none" stroke-width="0" fill="#5aa3f5" />
<circle cx="588.1" cy="311.51" r="1.7" stroke="none" stroke-width="0" fill="#5aa3f5" />
<circle cx="590.45" cy="311.5" r="1.7" stroke="none" stroke-width="0" fill="#5aa3f5" />
<circle cx="592.8" cy="311.47" r="1.7" stroke="none" stroke-width="0" fill="#5aa3f5" />
<circle cx="595.15" cy="311.63" r="1.7" stroke="none" stroke-width="0" fill="#5aa3f5" />
<circle cx="597.5" cy="311.5" r="1.7" stroke="none" stroke-width="0" fill="#5aa3f5" />
<circle cx="599.85" cy="311.45" r="1.7" stroke="none" stroke-width="0" fill="#5aa3f5" />
<circle cx="602.2" cy="311.38" r="1.7" stroke="none" stroke-width="0" fill="#5aa3f5" />
<circle cx="625.31" cy="310.89" r="1.75" stroke="#111" stroke-width="0.9" fill="none" />
<circle cx="628.8" cy="311.14" r="1.75" stroke="#111" stroke-width="0.9" fill="none" />
<circle cx="635.58" cy="308.88" r="1.75" stroke="#111" stroke-width="0.9" fill="none" />
<circle cx="619.35" cy="312.12" r="1.75" stroke="#111" stroke-width="0.9" fill="none" />
<circle cx="625.87" cy="309.58" r="1.75" stroke="#111" stroke-width="0.9" fill="none" />
<circle cx="645.38" cy="310.58" r="1.75" stroke="#111" stroke-width="0.9" fill="none" />
<circle cx="641.17" cy="310.6" r="1.75" stroke="#111" stroke-width="0.9" fill="none" />
<circle cx="635.94" cy="309.23" r="1.75" stroke="#111" stroke-width="0.9" fill="none" />
<circle cx="635.82" cy="312.25" r="1.75" stroke="#111" stroke-width="0.9" fill="none" />
<circle cx="632.86" cy="311.71" r="1.75" stroke="#111" stroke-width="0.9" fill="none" />
<circle cx="636.79" cy="308.87" r="1.75" stroke="#111" stroke-width="0.9" fill="none" />
<circle cx="639.09" cy="311.08" r="1.75" stroke="#111" stroke-width="0.9" fill="none" />
<circle cx="626.98" cy="308.73" r="1.75" stroke="#111" stroke-width="0.9" fill="none" />
<circle cx="641.94" cy="310.59" r="1.75" stroke="#111" stroke-width="0.9" fill="none" />
<circle cx="638.05" cy="312.29" r="1.75" stroke="#111" stroke-width="0.9" fill="none" />
<circle cx="637.92" cy="312.47" r="1.75" stroke="#111" stroke-width="0.9" fill="none" />
<circle cx="629.47" cy="311.96" r="1.75" stroke="#111" stroke-width="0.9" fill="none" />
<circle cx="630.78" cy="312.53" r="1.75" stroke="#111" stroke-width="0.9" fill="none" />
<circle cx="642.29" cy="309.01" r="1.75" stroke="#111" stroke-width="0.9" fill="none" />
<circle cx="622.6" cy="309.51" r="1.75" stroke="#111" stroke-width="0.9" fill="none" />
<circle cx="644.59" cy="310.43" r="1.75" stroke="#111" stroke-width="0.9" fill="none" />
<circle cx="635.61" cy="309.86" r="1.75" stroke="#111" stroke-width="0.9" fill="none" />
<circle cx="632.44" cy="310.22" r="1.75" stroke="#111" stroke-width="0.9" fill="none" />
<circle cx="628.3" cy="311.06" r="1.75" stroke="#111" stroke-width="0.9" fill="none" />
<circle cx="634.48" cy="312.4" r="1.75" stroke="#111" stroke-width="0.9" fill="none" />
<circle cx="637.07" cy="312.5" r="1.75" stroke="#111" stroke-width="0.9" fill="none" />
<circle cx="641.69" cy="312.76" r="1.75" stroke="#111" stroke-width="0.9" fill="none" />
<circle cx="636.79" cy="309.29" r="1.75" stroke="#111" stroke-width="0.9" fill="none" />
<circle cx="641.81" cy="312.65" r="1.75" stroke="#111" stroke-width="0.9" fill="none" />
<circle cx="642.97" cy="310.99" r="1.75" stroke="#111" stroke-width="0.9" fill="none" />
<circle cx="637.92" cy="309.49" r="1.75" stroke="#111" stroke-width="0.9" fill="none" />
<circle cx="641.04" cy="311.01" r="1.75" stroke="#111" stroke-width="0.9" fill="none" />
<circle cx="626.55" cy="308.87" r="1.75" stroke="#111" stroke-width="0.9" fill="none" />
<circle cx="641.63" cy="312.76" r="1.75" stroke="#111" stroke-width="0.9" fill="none" />
<circle cx="621.35" cy="311.96" r="1.75" stroke="#111" stroke-width="0.9" fill="none" />
<circle cx="629.88" cy="309.23" r="1.75" stroke="#111" stroke-width="0.9" fill="none" />
<circle cx="626.79" cy="311.83" r="1.75" stroke="#111" stroke-width="0.9" fill="none" />
<circle cx="642.13" cy="308.79" r="1.75" stroke="#111" stroke-width="0.9" fill="none" />
<circle cx="635.29" cy="308.79" r="1.75" stroke="#111" stroke-width="0.9" fill="none" />
<circle cx="638.04" cy="309.99" r="1.75" stroke="#111" stroke-width="0.9" fill="none" />
<circle cx="642.34" cy="312.72" r="1.75" stroke="#111" stroke-width="0.9" fill="none" />
<circle cx="632.39" cy="312.79" r="1.75" stroke="#111" stroke-width="0.9" fill="none" />
<circle cx="627.21" cy="308.92" r="1.75" stroke="#111" stroke-width="0.9" fill="none" />
<circle cx="634.89" cy="308.73" r="1.75" stroke="#111" stroke-width="0.9" fill="none" />
<circle cx="624.23" cy="310.31" r="1.75" stroke="#111" stroke-width="0.9" fill="none" />
<circle cx="635.18" cy="309.26" r="1.75" stroke="#111" stroke-width="0.9" fill="none" />
<circle cx="620.12" cy="312.24" r="1.75" stroke="#111" stroke-width="0.9" fill="none" />
<circle cx="627.32" cy="312.63" r="1.75" stroke="#111" stroke-width="0.9" fill="none" />
<circle cx="642.76" cy="310.19" r="1.75" stroke="#111" stroke-width="0.9" fill="none" />
<circle cx="631.2" cy="310.78" r="1.75" stroke="#111" stroke-width="0.9" fill="none" />
<circle cx="636.06" cy="311.1" r="1.75" stroke="#111" stroke-width="0.9" fill="none" />
<circle cx="633.82" cy="311.2" r="1.75" stroke="#111" stroke-width="0.9" fill="none" />
<circle cx="643.93" cy="310.73" r="1.75" stroke="#111" stroke-width="0.9" fill="none" />
<circle cx="630.43" cy="311.63" r="1.75" stroke="#111" stroke-width="0.9" fill="none" />
<circle cx="625.3" cy="309.86" r="1.75" stroke="#111" stroke-width="0.9" fill="none" />
<circle cx="644.91" cy="310.79" r="1.75" stroke="#111" stroke-width="0.9" fill="none" />
<circle cx="633.53" cy="308.65" r="1.75" stroke="#111" stroke-width="0.9" fill="none" />
<circle cx="630" cy="311.04" r="1.75" stroke="#111" stroke-width="0.9" fill="none" />
<circle cx="619.53" cy="311.19" r="1.75" stroke="#111" stroke-width="0.9" fill="none" />
<circle cx="635.75" cy="308.85" r="1.75" stroke="#111" stroke-width="0.9" fill="none" />
<circle cx="635.62" cy="310.56" r="1.75" stroke="#111" stroke-width="0.9" fill="none" />
<circle cx="637" cy="310.08" r="1.75" stroke="#111" stroke-width="0.9" fill="none" />
<circle cx="637.73" cy="311.7" r="1.75" stroke="#111" stroke-width="0.9" fill="none" />
<circle cx="619.59" cy="308.85" r="1.75" stroke="#111" stroke-width="0.9" fill="none" />
<circle cx="636.91" cy="312.65" r="1.75" stroke="#111" stroke-width="0.9" fill="none" />
<circle cx="625.65" cy="310.52" r="1.75" stroke="#111" stroke-width="0.9" fill="none" />
<circle cx="634.71" cy="309.94" r="1.75" stroke="#111" stroke-width="0.9" fill="none" />
<circle cx="628.64" cy="309.91" r="1.75" stroke="#111" stroke-width="0.9" fill="none" />
<circle cx="628.78" cy="311.1" r="1.75" stroke="#111" stroke-width="0.9" fill="none" />
<circle cx="626.96" cy="310.18" r="1.75" stroke="#111" stroke-width="0.9" fill="none" />
<circle cx="639.47" cy="308.71" r="1.75" stroke="#111" stroke-width="0.9" fill="none" />
<circle cx="634.09" cy="311.69" r="1.75" stroke="#111" stroke-width="0.9" fill="none" />
<circle cx="627.22" cy="309.53" r="1.75" stroke="#111" stroke-width="0.9" fill="none" />
<circle cx="640.3" cy="309.6" r="1.75" stroke="#111" stroke-width="0.9" fill="none" />
<circle cx="623.97" cy="310.43" r="1.75" stroke="#111" stroke-width="0.9" fill="none" />
<line x1="542.5" y1="312.4" x2="542.5" y2="317.4" stroke="#444" stroke-width="1.0" />
<line x1="587.4" y1="312.4" x2="587.4" y2="317.4" stroke="#444" stroke-width="1.0" />
<line x1="631.6" y1="312.4" x2="631.6" y2="317.4" stroke="#444" stroke-width="1.0" />
<text x="529.45" y="326.7" font-size="8.57" font-weight="bold" fill="#231f20" textLength="17.8" lengthAdjust="spacingAndGlyphs">ECD</text>
<text x="549.42" y="323.43" font-size="7.06" font-weight="bold" fill="#231f20" textLength="4.05" lengthAdjust="spacingAndGlyphs">+</text>
<text x="569.17" y="327.5" font-size="8.99" font-weight="bold" fill="#231f20" textLength="9.99" lengthAdjust="spacingAndGlyphs">FL</text>
<text x="578.91" y="324.44" font-size="7.25" font-weight="bold" fill="#231f20" textLength="4.28" lengthAdjust="spacingAndGlyphs">+</text>
<text x="584.87" y="327.5" font-size="8.43" font-weight="bold" fill="#231f20" textLength="17.38" lengthAdjust="spacingAndGlyphs">ECD</text>
<line x1="604.4" y1="321.2" x2="607" y2="321.2" stroke="#231f20" stroke-width="0.8" />
<text x="615.55" y="327.6" font-size="8.29" font-weight="bold" fill="#231f20" textLength="17.8" lengthAdjust="spacingAndGlyphs">ECD</text>
<line x1="635.1" y1="320.4" x2="637.2" y2="320.4" stroke="#231f20" stroke-width="0.8" />
<text x="640.57" y="327.6" font-size="8.41" font-weight="bold" fill="#231f20" textLength="9.88" lengthAdjust="spacingAndGlyphs">FL</text>
<line x1="649.8" y1="320.4" x2="652.1" y2="320.4" stroke="#231f20" stroke-width="0.8" />
<text x="506.9" y="279.46" font-size="8.83" fill="#222" textLength="65.78" lengthAdjust="spacingAndGlyphs" transform="rotate(-90 506.9 279.46)">RFU (490/525nm)</text>
</svg>
</body></html>
